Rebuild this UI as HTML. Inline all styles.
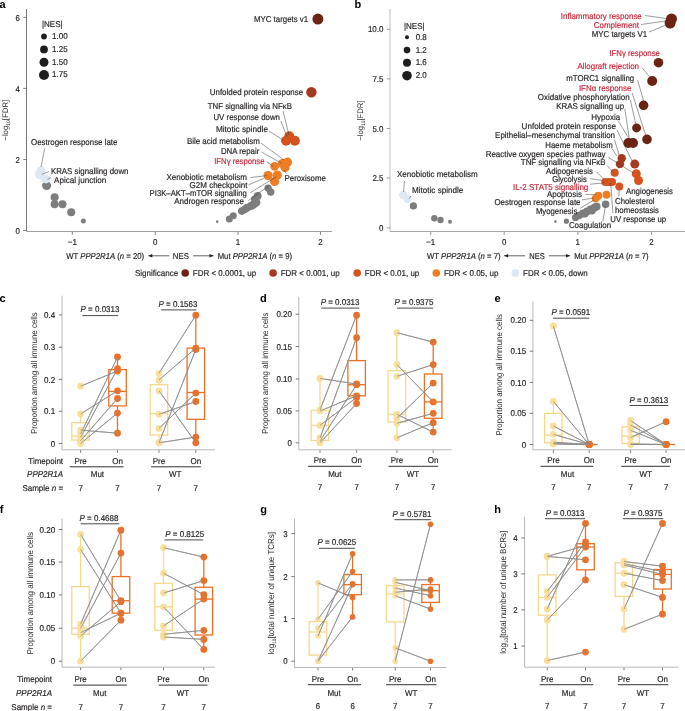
<!DOCTYPE html>
<html><head><meta charset="utf-8"><style>
html,body{margin:0;padding:0;background:#fff;}
svg{display:block;font-family:"Liberation Sans", sans-serif;will-change:transform;text-rendering:geometricPrecision;}
</style></head><body>
<svg width="685" height="711" viewBox="0 0 685 711">
<rect width="685" height="711" fill="#fff"/>
<text x="-0.6" y="8.0" font-size="11" font-weight="bold" fill="#000">a</text>
<line x1="26.5" y1="9.0" x2="26.5" y2="231.5" stroke="#555555" stroke-width="0.8"/>
<line x1="26.5" y1="231.5" x2="332.0" y2="231.5" stroke="#a0a0a0" stroke-width="1.0"/>
<line x1="23.2" y1="17.4" x2="26.5" y2="17.4" stroke="#555555" stroke-width="0.7"/>
<text x="20.0" y="20.5" font-size="8.5" fill="#231f20" stroke="#231f20" stroke-width="0.18" text-anchor="end"  textLength="4.4" lengthAdjust="spacingAndGlyphs">6</text>
<line x1="23.2" y1="88.4" x2="26.5" y2="88.4" stroke="#555555" stroke-width="0.7"/>
<text x="20.0" y="91.5" font-size="8.5" fill="#231f20" stroke="#231f20" stroke-width="0.18" text-anchor="end"  textLength="4.4" lengthAdjust="spacingAndGlyphs">4</text>
<line x1="23.2" y1="159.5" x2="26.5" y2="159.5" stroke="#555555" stroke-width="0.7"/>
<text x="20.0" y="162.6" font-size="8.5" fill="#231f20" stroke="#231f20" stroke-width="0.18" text-anchor="end"  textLength="4.4" lengthAdjust="spacingAndGlyphs">2</text>
<line x1="23.2" y1="230.5" x2="26.5" y2="230.5" stroke="#555555" stroke-width="0.7"/>
<text x="20.0" y="233.6" font-size="8.5" fill="#231f20" stroke="#231f20" stroke-width="0.18" text-anchor="end"  textLength="4.4" lengthAdjust="spacingAndGlyphs">0</text>
<line x1="72.3" y1="232.0" x2="72.3" y2="234.8" stroke="#666" stroke-width="0.8"/>
<text x="72.3" y="245.1" font-size="8.5" fill="#231f20" stroke="#231f20" stroke-width="0.18" text-anchor="middle"  textLength="9.1" lengthAdjust="spacingAndGlyphs">−1</text>
<line x1="155.3" y1="232.0" x2="155.3" y2="234.8" stroke="#666" stroke-width="0.8"/>
<text x="155.3" y="245.1" font-size="8.5" fill="#231f20" stroke="#231f20" stroke-width="0.18" text-anchor="middle"  textLength="4.4" lengthAdjust="spacingAndGlyphs">0</text>
<line x1="238.0" y1="232.0" x2="238.0" y2="234.8" stroke="#666" stroke-width="0.8"/>
<text x="238.0" y="245.1" font-size="8.5" fill="#231f20" stroke="#231f20" stroke-width="0.18" text-anchor="middle"  textLength="4.4" lengthAdjust="spacingAndGlyphs">1</text>
<line x1="320.5" y1="232.0" x2="320.5" y2="234.8" stroke="#666" stroke-width="0.8"/>
<text x="320.5" y="245.1" font-size="8.5" fill="#231f20" stroke="#231f20" stroke-width="0.18" text-anchor="middle"  textLength="4.4" lengthAdjust="spacingAndGlyphs">2</text>
<text transform="translate(7.9,120.2) rotate(-90)" font-size="8" fill="#231f20" text-anchor="middle" textLength="41" lengthAdjust="spacingAndGlyphs">−log<tspan font-size="5" dy="2">10</tspan><tspan dy="-2">[FDR]</tspan></text>
<text x="66.3" y="258.7" font-size="8.5" fill="#231f20" stroke="#231f20" stroke-width="0.18" text-anchor="start"  textLength="77.8" lengthAdjust="spacingAndGlyphs">WT <tspan font-style="italic">PPP2R1A</tspan> (<tspan font-style="italic">n</tspan> = 20)</text>
<text x="172.8" y="258.7" font-size="8.5" fill="#231f20" stroke="#231f20" stroke-width="0.18" text-anchor="start"  textLength="16.1" lengthAdjust="spacingAndGlyphs">NES</text>
<text x="217.7" y="258.7" font-size="8.5" fill="#231f20" stroke="#231f20" stroke-width="0.18" text-anchor="start"  textLength="74.3" lengthAdjust="spacingAndGlyphs">Mut <tspan font-style="italic">PPP2R1A</tspan> (<tspan font-style="italic">n</tspan> = 9)</text>
<line x1="169.3" y1="255.8" x2="148.3" y2="255.8" stroke="#231f20" stroke-width="0.7"/>
<path d="M148.3,255.8 L152.3,254.10000000000002 L152.3,257.5 Z" fill="#231f20"/>
<line x1="193.1" y1="255.8" x2="213.5" y2="255.8" stroke="#231f20" stroke-width="0.7"/>
<path d="M213.5,255.8 L209.5,254.10000000000002 L209.5,257.5 Z" fill="#231f20"/>
<text x="42.0" y="26.7" font-size="8.5" fill="#231f20" stroke="#231f20" stroke-width="0.18" text-anchor="start"  textLength="20.6" lengthAdjust="spacingAndGlyphs">|NES|</text>
<circle cx="44.0" cy="36.5" r="2.9" fill="#1e1e1e"/>
<text x="52.0" y="38.8" font-size="8.5" fill="#231f20" stroke="#231f20" stroke-width="0.18" text-anchor="start"  textLength="15.6" lengthAdjust="spacingAndGlyphs">1.00</text>
<circle cx="44.0" cy="49.4" r="3.9" fill="#1e1e1e"/>
<text x="52.0" y="51.7" font-size="8.5" fill="#231f20" stroke="#231f20" stroke-width="0.18" text-anchor="start"  textLength="15.6" lengthAdjust="spacingAndGlyphs">1.25</text>
<circle cx="44.0" cy="62.3" r="4.5" fill="#1e1e1e"/>
<text x="52.0" y="64.6" font-size="8.5" fill="#231f20" stroke="#231f20" stroke-width="0.18" text-anchor="start"  textLength="15.6" lengthAdjust="spacingAndGlyphs">1.50</text>
<circle cx="44.0" cy="75.0" r="5.0" fill="#1e1e1e"/>
<text x="52.0" y="77.3" font-size="8.5" fill="#231f20" stroke="#231f20" stroke-width="0.18" text-anchor="start"  textLength="15.6" lengthAdjust="spacingAndGlyphs">1.75</text>
<circle cx="46.6" cy="185.6" r="4.5" fill="#7d7d7d"/>
<circle cx="54.6" cy="197.3" r="4.0" fill="#7d7d7d"/>
<circle cx="54.6" cy="204.2" r="4.0" fill="#7d7d7d"/>
<circle cx="62.5" cy="204.2" r="4.0" fill="#7d7d7d"/>
<circle cx="71.2" cy="212.2" r="4.0" fill="#7d7d7d"/>
<circle cx="83.4" cy="221.1" r="2.5" fill="#7d7d7d"/>
<circle cx="41.0" cy="170.7" r="4.5" fill="#dde8f4"/>
<circle cx="39.7" cy="174.4" r="4.8" fill="#dde8f4"/>
<circle cx="45.9" cy="178.9" r="4.5" fill="#dde8f4"/>
<text x="31.0" y="145.3" font-size="8.5" fill="#231f20" stroke="#231f20" stroke-width="0.18" text-anchor="start"  textLength="86.4" lengthAdjust="spacingAndGlyphs">Oestrogen response late</text>
<text x="50.9" y="173.6" font-size="8.5" fill="#231f20" stroke="#231f20" stroke-width="0.18" text-anchor="start"  textLength="77.6" lengthAdjust="spacingAndGlyphs">KRAS signalling down</text>
<text x="54.1" y="182.5" font-size="8.5" fill="#231f20" stroke="#231f20" stroke-width="0.18" text-anchor="start"  textLength="52.1" lengthAdjust="spacingAndGlyphs">Apical junction</text>
<line x1="44.7" y1="148.4" x2="41.0" y2="167.0" stroke="#3a3a3a" stroke-width="0.5"/>
<line x1="49.1" y1="171.6" x2="41.9" y2="174.3" stroke="#3a3a3a" stroke-width="0.5"/>
<line x1="47.5" y1="179.5" x2="51.0" y2="177.5" stroke="#3a3a3a" stroke-width="0.5"/>
<circle cx="217.2" cy="221.6" r="1.3" fill="#7d7d7d"/>
<circle cx="229.3" cy="219.0" r="3.5" fill="#7d7d7d"/>
<circle cx="233.3" cy="215.7" r="3.5" fill="#7d7d7d"/>
<circle cx="241.8" cy="211.1" r="3.8" fill="#7d7d7d"/>
<circle cx="244.5" cy="209.5" r="3.8" fill="#7d7d7d"/>
<circle cx="247.0" cy="207.8" r="4.0" fill="#7d7d7d"/>
<circle cx="251.0" cy="206.0" r="4.0" fill="#7d7d7d"/>
<circle cx="253.5" cy="204.5" r="4.0" fill="#7d7d7d"/>
<circle cx="256.2" cy="202.6" r="4.2" fill="#7d7d7d"/>
<circle cx="255.0" cy="199.5" r="4.0" fill="#7d7d7d"/>
<circle cx="257.6" cy="196.0" r="4.0" fill="#7d7d7d"/>
<circle cx="268.1" cy="188.1" r="3.7" fill="#7d7d7d"/>
<circle cx="270.7" cy="192.0" r="3.7" fill="#7d7d7d"/>
<circle cx="268.1" cy="175.6" r="4.6" fill="#ee7d23"/>
<circle cx="277.3" cy="175.0" r="4.6" fill="#ee7d23"/>
<circle cx="274.6" cy="181.5" r="4.6" fill="#ee7d23"/>
<circle cx="274.6" cy="166.4" r="4.3" fill="#ee7d23"/>
<circle cx="282.5" cy="163.5" r="4.6" fill="#ee7d23"/>
<circle cx="287.5" cy="162.2" r="4.6" fill="#ee7d23"/>
<circle cx="285.0" cy="167.5" r="4.6" fill="#ee7d23"/>
<circle cx="289.3" cy="136.3" r="5.0" fill="#d4531f"/>
<circle cx="286.1" cy="140.7" r="5.0" fill="#d4531f"/>
<circle cx="294.9" cy="140.7" r="5.0" fill="#d4531f"/>
<circle cx="311.4" cy="92.3" r="5.2" fill="#a63a20"/>
<circle cx="317.9" cy="19.1" r="5.5" fill="#6b2413"/>
<text x="253.9" y="22.2" font-size="8.5" fill="#231f20" stroke="#231f20" stroke-width="0.18" text-anchor="start"  textLength="54.3" lengthAdjust="spacingAndGlyphs">MYC targets v1</text>
<text x="209.7" y="95.3" font-size="8.5" fill="#231f20" stroke="#231f20" stroke-width="0.18" text-anchor="start"  textLength="93.5" lengthAdjust="spacingAndGlyphs">Unfolded protein response</text>
<text x="207.7" y="108.6" font-size="8.5" fill="#231f20" stroke="#231f20" stroke-width="0.18" text-anchor="start"  textLength="84.3" lengthAdjust="spacingAndGlyphs">TNF signalling via NFκB</text>
<text x="213.4" y="120.0" font-size="8.5" fill="#231f20" stroke="#231f20" stroke-width="0.18" text-anchor="start"  textLength="66.6" lengthAdjust="spacingAndGlyphs">UV response down</text>
<text x="215.9" y="132.1" font-size="8.5" fill="#231f20" stroke="#231f20" stroke-width="0.18" text-anchor="start"  textLength="52.1" lengthAdjust="spacingAndGlyphs">Mitotic spindle</text>
<text x="186.9" y="144.1" font-size="8.5" fill="#231f20" stroke="#231f20" stroke-width="0.18" text-anchor="start"  textLength="72.9" lengthAdjust="spacingAndGlyphs">Bile acid metabolism</text>
<text x="220.9" y="153.5" font-size="8.5" fill="#231f20" stroke="#231f20" stroke-width="0.18" text-anchor="start"  textLength="38.4" lengthAdjust="spacingAndGlyphs">DNA repair</text>
<text x="214.2" y="163.9" font-size="8.5" fill="#c8283c" stroke="#c8283c" stroke-width="0.18" text-anchor="start"  textLength="50.3" lengthAdjust="spacingAndGlyphs">IFNγ response</text>
<text x="246.9" y="180.1" font-size="8.5" fill="#231f20" stroke="#231f20" stroke-width="0.18" text-anchor="end"  textLength="80.5" lengthAdjust="spacingAndGlyphs">Xenobiotic metabolism</text>
<text x="247.4" y="188.2" font-size="8.5" fill="#231f20" stroke="#231f20" stroke-width="0.18" text-anchor="end"  textLength="57.8" lengthAdjust="spacingAndGlyphs">G2M checkpoint</text>
<text x="149.6" y="196.4" font-size="8.5" fill="#231f20" stroke="#231f20" stroke-width="0.18" text-anchor="start"  textLength="97.3" lengthAdjust="spacingAndGlyphs">PI3K–AKT–mTOR signalling</text>
<text x="244.0" y="204.3" font-size="8.5" fill="#231f20" stroke="#231f20" stroke-width="0.18" text-anchor="end"  textLength="69.8" lengthAdjust="spacingAndGlyphs">Androgen response</text>
<text x="284.6" y="181.3" font-size="8.5" fill="#231f20" stroke="#231f20" stroke-width="0.18" text-anchor="start"  textLength="41.2" lengthAdjust="spacingAndGlyphs">Peroxisome</text>
<line x1="283.0" y1="111.0" x2="289.0" y2="135.0" stroke="#3a3a3a" stroke-width="0.5"/>
<line x1="281.0" y1="121.0" x2="287.0" y2="137.0" stroke="#3a3a3a" stroke-width="0.5"/>
<line x1="269.0" y1="131.0" x2="283.0" y2="140.0" stroke="#3a3a3a" stroke-width="0.5"/>
<line x1="261.0" y1="143.0" x2="284.0" y2="160.0" stroke="#3a3a3a" stroke-width="0.5"/>
<line x1="261.5" y1="152.0" x2="281.2" y2="163.1" stroke="#3a3a3a" stroke-width="0.5"/>
<line x1="266.8" y1="161.8" x2="273.3" y2="166.4" stroke="#3a3a3a" stroke-width="0.5"/>
<line x1="250.3" y1="177.6" x2="266.8" y2="175.6" stroke="#3a3a3a" stroke-width="0.5"/>
<line x1="248.5" y1="184.8" x2="264.1" y2="178.3" stroke="#3a3a3a" stroke-width="0.5"/>
<line x1="250.3" y1="192.7" x2="276.0" y2="177.0" stroke="#3a3a3a" stroke-width="0.5"/>
<line x1="248.4" y1="200.6" x2="269.4" y2="185.5" stroke="#3a3a3a" stroke-width="0.5"/>
<line x1="286.5" y1="173.7" x2="283.8" y2="169.7" stroke="#3a3a3a" stroke-width="0.5"/>
<text x="354.6" y="8.0" font-size="11" font-weight="bold" fill="#000">b</text>
<line x1="390.0" y1="9.0" x2="390.0" y2="231.5" stroke="#b8b8b8" stroke-width="0.9"/>
<line x1="390.0" y1="231.5" x2="685.0" y2="231.5" stroke="#a8a8a8" stroke-width="1.0"/>
<line x1="386.7" y1="29.3" x2="390.0" y2="29.3" stroke="#777" stroke-width="0.7"/>
<text x="383.5" y="32.4" font-size="8.5" fill="#231f20" stroke="#231f20" stroke-width="0.18" text-anchor="end"  textLength="15.6" lengthAdjust="spacingAndGlyphs">10.0</text>
<line x1="386.7" y1="78.9" x2="390.0" y2="78.9" stroke="#777" stroke-width="0.7"/>
<text x="383.5" y="82.0" font-size="8.5" fill="#231f20" stroke="#231f20" stroke-width="0.18" text-anchor="end"  textLength="11.1" lengthAdjust="spacingAndGlyphs">7.5</text>
<line x1="386.7" y1="128.5" x2="390.0" y2="128.5" stroke="#777" stroke-width="0.7"/>
<text x="383.5" y="131.6" font-size="8.5" fill="#231f20" stroke="#231f20" stroke-width="0.18" text-anchor="end"  textLength="11.1" lengthAdjust="spacingAndGlyphs">5.0</text>
<line x1="386.7" y1="178.1" x2="390.0" y2="178.1" stroke="#777" stroke-width="0.7"/>
<text x="383.5" y="181.2" font-size="8.5" fill="#231f20" stroke="#231f20" stroke-width="0.18" text-anchor="end"  textLength="11.1" lengthAdjust="spacingAndGlyphs">2.5</text>
<line x1="386.7" y1="227.9" x2="390.0" y2="227.9" stroke="#777" stroke-width="0.7"/>
<text x="383.5" y="231.0" font-size="8.5" fill="#231f20" stroke="#231f20" stroke-width="0.18" text-anchor="end"  textLength="4.4" lengthAdjust="spacingAndGlyphs">0</text>
<line x1="430.7" y1="232.0" x2="430.7" y2="234.8" stroke="#777" stroke-width="0.8"/>
<text x="430.7" y="245.1" font-size="8.5" fill="#231f20" stroke="#231f20" stroke-width="0.18" text-anchor="middle"  textLength="9.1" lengthAdjust="spacingAndGlyphs">−1</text>
<line x1="504.2" y1="232.0" x2="504.2" y2="234.8" stroke="#777" stroke-width="0.8"/>
<text x="504.2" y="245.1" font-size="8.5" fill="#231f20" stroke="#231f20" stroke-width="0.18" text-anchor="middle"  textLength="4.4" lengthAdjust="spacingAndGlyphs">0</text>
<line x1="577.8" y1="232.0" x2="577.8" y2="234.8" stroke="#777" stroke-width="0.8"/>
<text x="577.8" y="245.1" font-size="8.5" fill="#231f20" stroke="#231f20" stroke-width="0.18" text-anchor="middle"  textLength="4.4" lengthAdjust="spacingAndGlyphs">1</text>
<line x1="651.5" y1="232.0" x2="651.5" y2="234.8" stroke="#777" stroke-width="0.8"/>
<text x="651.5" y="245.1" font-size="8.5" fill="#231f20" stroke="#231f20" stroke-width="0.18" text-anchor="middle"  textLength="4.4" lengthAdjust="spacingAndGlyphs">2</text>
<text transform="translate(362.9,120.6) rotate(-90)" font-size="8" fill="#231f20" text-anchor="middle" textLength="40" lengthAdjust="spacingAndGlyphs">−log<tspan font-size="5" dy="2">10</tspan><tspan dy="-2">[FDR]</tspan></text>
<text x="427.0" y="258.6" font-size="8.5" fill="#231f20" stroke="#231f20" stroke-width="0.18" text-anchor="start"  textLength="73.6" lengthAdjust="spacingAndGlyphs">WT <tspan font-style="italic">PPP2R1A</tspan> (<tspan font-style="italic">n</tspan> = 7)</text>
<text x="529.3" y="258.6" font-size="8.5" fill="#231f20" stroke="#231f20" stroke-width="0.18" text-anchor="start"  textLength="15.4" lengthAdjust="spacingAndGlyphs">NES</text>
<text x="574.2" y="258.6" font-size="8.5" fill="#231f20" stroke="#231f20" stroke-width="0.18" text-anchor="start"  textLength="74.3" lengthAdjust="spacingAndGlyphs">Mut <tspan font-style="italic">PPP2R1A</tspan> (<tspan font-style="italic">n</tspan> = 7)</text>
<line x1="525.1" y1="255.8" x2="504.1" y2="255.8" stroke="#231f20" stroke-width="0.7"/>
<path d="M504.1,255.8 L508.1,254.10000000000002 L508.1,257.5 Z" fill="#231f20"/>
<line x1="548.9" y1="255.8" x2="570.0" y2="255.8" stroke="#231f20" stroke-width="0.7"/>
<path d="M570.0,255.8 L566.0,254.10000000000002 L566.0,257.5 Z" fill="#231f20"/>
<text x="404.0" y="29.1" font-size="8.5" fill="#231f20" stroke="#231f20" stroke-width="0.18" text-anchor="start"  textLength="20.6" lengthAdjust="spacingAndGlyphs">|NES|</text>
<circle cx="407.0" cy="37.2" r="2.0" fill="#1e1e1e"/>
<text x="415.7" y="39.7" font-size="8.5" fill="#231f20" stroke="#231f20" stroke-width="0.18" text-anchor="start"  textLength="11.1" lengthAdjust="spacingAndGlyphs">0.8</text>
<circle cx="407.0" cy="50.1" r="3.3" fill="#1e1e1e"/>
<text x="415.7" y="52.6" font-size="8.5" fill="#231f20" stroke="#231f20" stroke-width="0.18" text-anchor="start"  textLength="11.1" lengthAdjust="spacingAndGlyphs">1.2</text>
<circle cx="407.0" cy="62.8" r="4.0" fill="#1e1e1e"/>
<text x="415.7" y="65.3" font-size="8.5" fill="#231f20" stroke="#231f20" stroke-width="0.18" text-anchor="start"  textLength="11.1" lengthAdjust="spacingAndGlyphs">1.6</text>
<circle cx="407.0" cy="75.7" r="4.8" fill="#1e1e1e"/>
<text x="415.7" y="78.2" font-size="8.5" fill="#231f20" stroke="#231f20" stroke-width="0.18" text-anchor="start"  textLength="11.1" lengthAdjust="spacingAndGlyphs">2.0</text>
<circle cx="413.4" cy="205.9" r="3.6" fill="#7d7d7d"/>
<circle cx="434.3" cy="218.3" r="3.2" fill="#7d7d7d"/>
<circle cx="440.5" cy="220.0" r="3.2" fill="#7d7d7d"/>
<circle cx="450.0" cy="221.7" r="2.0" fill="#7d7d7d"/>
<circle cx="403.3" cy="195.0" r="4.2" fill="#dde8f4"/>
<circle cx="407.5" cy="198.9" r="4.2" fill="#dde8f4"/>
<text x="397.0" y="177.2" font-size="8.5" fill="#231f20" stroke="#231f20" stroke-width="0.18" text-anchor="start"  textLength="80.7" lengthAdjust="spacingAndGlyphs">Xenobiotic metabolism</text>
<text x="412.0" y="193.3" font-size="8.5" fill="#231f20" stroke="#231f20" stroke-width="0.18" text-anchor="start"  textLength="51.3" lengthAdjust="spacingAndGlyphs">Mitotic spindle</text>
<line x1="404.5" y1="181.0" x2="403.5" y2="192.0" stroke="#3a3a3a" stroke-width="0.5"/>
<line x1="411.0" y1="196.0" x2="409.0" y2="198.5" stroke="#3a3a3a" stroke-width="0.5"/>
<circle cx="555.4" cy="221.6" r="1.3" fill="#7d7d7d"/>
<circle cx="566.4" cy="221.2" r="2.6" fill="#7d7d7d"/>
<circle cx="575.5" cy="217.6" r="3.6" fill="#7d7d7d"/>
<circle cx="579.0" cy="215.5" r="3.8" fill="#7d7d7d"/>
<circle cx="583.0" cy="213.5" r="4.0" fill="#7d7d7d"/>
<circle cx="587.0" cy="211.5" r="4.0" fill="#7d7d7d"/>
<circle cx="590.5" cy="209.5" r="4.0" fill="#7d7d7d"/>
<circle cx="594.0" cy="208.0" r="4.0" fill="#7d7d7d"/>
<circle cx="596.5" cy="206.6" r="4.0" fill="#7d7d7d"/>
<circle cx="585.0" cy="214.0" r="3.5" fill="#7d7d7d"/>
<circle cx="592.0" cy="211.0" r="3.5" fill="#7d7d7d"/>
<circle cx="605.6" cy="204.2" r="3.8" fill="#7d7d7d"/>
<circle cx="598.3" cy="195.7" r="4.0" fill="#ee7d23"/>
<circle cx="606.5" cy="194.7" r="4.0" fill="#ee7d23"/>
<circle cx="595.6" cy="198.4" r="3.8" fill="#ee7d23"/>
<circle cx="605.3" cy="182.0" r="4.0" fill="#d4531f"/>
<circle cx="609.0" cy="182.0" r="4.0" fill="#d4531f"/>
<circle cx="612.0" cy="182.0" r="4.0" fill="#d4531f"/>
<circle cx="619.3" cy="186.5" r="4.0" fill="#d4531f"/>
<circle cx="614.7" cy="172.8" r="4.0" fill="#d4531f"/>
<circle cx="636.3" cy="173.8" r="4.5" fill="#d4531f"/>
<circle cx="638.5" cy="180.5" r="4.5" fill="#d4531f"/>
<circle cx="621.7" cy="158.2" r="4.2" fill="#a63a20"/>
<circle cx="619.9" cy="164.1" r="4.2" fill="#a63a20"/>
<circle cx="634.8" cy="164.1" r="4.5" fill="#a63a20"/>
<circle cx="628.4" cy="143.0" r="5.0" fill="#6b2413"/>
<circle cx="633.0" cy="143.0" r="5.0" fill="#6b2413"/>
<circle cx="647.0" cy="139.4" r="4.8" fill="#6b2413"/>
<circle cx="636.6" cy="127.9" r="4.5" fill="#6b2413"/>
<circle cx="643.6" cy="105.3" r="4.8" fill="#6b2413"/>
<circle cx="652.2" cy="81.0" r="5.0" fill="#6b2413"/>
<circle cx="658.5" cy="62.7" r="4.8" fill="#6b2413"/>
<circle cx="671.5" cy="18.9" r="5.5" fill="#6b2413"/>
<circle cx="670.1" cy="23.0" r="5.5" fill="#6b2413"/>
<text x="560.8" y="18.5" font-size="8.5" fill="#c8283c" stroke="#c8283c" stroke-width="0.18" text-anchor="start"  textLength="81.0" lengthAdjust="spacingAndGlyphs">Inflammatory response</text>
<text x="593.7" y="28.2" font-size="8.5" fill="#c8283c" stroke="#c8283c" stroke-width="0.18" text-anchor="start"  textLength="45.3" lengthAdjust="spacingAndGlyphs">Complement</text>
<text x="591.8" y="36.6" font-size="8.5" fill="#231f20" stroke="#231f20" stroke-width="0.18" text-anchor="start"  textLength="55.4" lengthAdjust="spacingAndGlyphs">MYC targets V1</text>
<text x="609.4" y="56.3" font-size="8.5" fill="#c8283c" stroke="#c8283c" stroke-width="0.18" text-anchor="start"  textLength="50.5" lengthAdjust="spacingAndGlyphs">IFNγ response</text>
<text x="577.5" y="69.3" font-size="8.5" fill="#c8283c" stroke="#c8283c" stroke-width="0.18" text-anchor="start"  textLength="61.5" lengthAdjust="spacingAndGlyphs">Allograft rejection</text>
<text x="566.2" y="80.9" font-size="8.5" fill="#231f20" stroke="#231f20" stroke-width="0.18" text-anchor="start"  textLength="68.0" lengthAdjust="spacingAndGlyphs">mTORC1 signalling</text>
<text x="578.9" y="91.4" font-size="8.5" fill="#c8283c" stroke="#c8283c" stroke-width="0.18" text-anchor="start"  textLength="52.6" lengthAdjust="spacingAndGlyphs">IFNα response</text>
<text x="537.8" y="99.5" font-size="8.5" fill="#231f20" stroke="#231f20" stroke-width="0.18" text-anchor="start"  textLength="91.8" lengthAdjust="spacingAndGlyphs">Oxidative phosphorylation</text>
<text x="556.2" y="108.7" font-size="8.5" fill="#231f20" stroke="#231f20" stroke-width="0.18" text-anchor="start"  textLength="68.0" lengthAdjust="spacingAndGlyphs">KRAS signalling up</text>
<text x="591.3" y="120.0" font-size="8.5" fill="#231f20" stroke="#231f20" stroke-width="0.18" text-anchor="start"  textLength="28.9" lengthAdjust="spacingAndGlyphs">Hypoxia</text>
<text x="521.6" y="128.9" font-size="8.5" fill="#231f20" stroke="#231f20" stroke-width="0.18" text-anchor="start"  textLength="94.5" lengthAdjust="spacingAndGlyphs">Unfolded protein response</text>
<text x="495.1" y="138.4" font-size="8.5" fill="#231f20" stroke="#231f20" stroke-width="0.18" text-anchor="start"  textLength="119.9" lengthAdjust="spacingAndGlyphs">Epithelial–mesenchymal transition</text>
<text x="545.3" y="148.1" font-size="8.5" fill="#231f20" stroke="#231f20" stroke-width="0.18" text-anchor="start"  textLength="67.5" lengthAdjust="spacingAndGlyphs">Haeme metabolism</text>
<text x="485.7" y="157.0" font-size="8.5" fill="#231f20" stroke="#231f20" stroke-width="0.18" text-anchor="start"  textLength="119.9" lengthAdjust="spacingAndGlyphs">Reactive oxygen species pathway</text>
<text x="520.8" y="165.4" font-size="8.5" fill="#231f20" stroke="#231f20" stroke-width="0.18" text-anchor="start"  textLength="84.8" lengthAdjust="spacingAndGlyphs">TNF signalling via NFκB</text>
<text x="546.0" y="173.9" font-size="8.5" fill="#231f20" stroke="#231f20" stroke-width="0.18" text-anchor="start"  textLength="47.0" lengthAdjust="spacingAndGlyphs">Adipogenesis</text>
<text x="552.2" y="181.7" font-size="8.5" fill="#231f20" stroke="#231f20" stroke-width="0.18" text-anchor="start"  textLength="34.6" lengthAdjust="spacingAndGlyphs">Glycolysis</text>
<text x="513.0" y="189.6" font-size="8.5" fill="#c8283c" stroke="#c8283c" stroke-width="0.18" text-anchor="start"  textLength="75.3" lengthAdjust="spacingAndGlyphs">IL-2 STAT5 signalling</text>
<text x="546.9" y="197.4" font-size="8.5" fill="#231f20" stroke="#231f20" stroke-width="0.18" text-anchor="start"  textLength="35.1" lengthAdjust="spacingAndGlyphs">Apoptosis</text>
<text x="494.5" y="204.7" font-size="8.5" fill="#231f20" stroke="#231f20" stroke-width="0.18" text-anchor="start"  textLength="86.0" lengthAdjust="spacingAndGlyphs">Oestrogen response late</text>
<text x="535.9" y="213.8" font-size="8.5" fill="#231f20" stroke="#231f20" stroke-width="0.18" text-anchor="start"  textLength="41.4" lengthAdjust="spacingAndGlyphs">Myogenesis</text>
<text x="568.9" y="227.9" font-size="8.5" fill="#231f20" stroke="#231f20" stroke-width="0.18" text-anchor="start"  textLength="42.3" lengthAdjust="spacingAndGlyphs">Coagulation</text>
<text x="610.3" y="222.2" font-size="8.5" fill="#231f20" stroke="#231f20" stroke-width="0.18" text-anchor="start"  textLength="55.9" lengthAdjust="spacingAndGlyphs">UV response up</text>
<text x="615.0" y="213.1" font-size="8.5" fill="#231f20" stroke="#231f20" stroke-width="0.18" text-anchor="start"  textLength="44.0" lengthAdjust="spacingAndGlyphs">homeostasis</text>
<text x="615.0" y="204.0" font-size="8.5" fill="#231f20" stroke="#231f20" stroke-width="0.18" text-anchor="start"  textLength="39.6" lengthAdjust="spacingAndGlyphs">Cholesterol</text>
<text x="626.0" y="193.7" font-size="8.5" fill="#231f20" stroke="#231f20" stroke-width="0.18" text-anchor="start"  textLength="47.0" lengthAdjust="spacingAndGlyphs">Angiogenesis</text>
<line x1="645.0" y1="15.5" x2="666.0" y2="18.5" stroke="#3a3a3a" stroke-width="0.5"/>
<line x1="641.0" y1="24.5" x2="666.0" y2="21.0" stroke="#3a3a3a" stroke-width="0.5"/>
<line x1="649.0" y1="32.0" x2="666.0" y2="25.0" stroke="#3a3a3a" stroke-width="0.5"/>
<line x1="642.1" y1="67.7" x2="649.8" y2="77.3" stroke="#3a3a3a" stroke-width="0.5"/>
<line x1="637.6" y1="80.1" x2="643.6" y2="101.0" stroke="#3a3a3a" stroke-width="0.5"/>
<line x1="632.1" y1="92.8" x2="645.8" y2="135.7" stroke="#3a3a3a" stroke-width="0.5"/>
<line x1="630.3" y1="99.8" x2="635.7" y2="123.9" stroke="#3a3a3a" stroke-width="0.5"/>
<line x1="624.8" y1="108.9" x2="629.3" y2="138.5" stroke="#3a3a3a" stroke-width="0.5"/>
<line x1="618.4" y1="121.1" x2="628.4" y2="137.6" stroke="#3a3a3a" stroke-width="0.5"/>
<line x1="616.9" y1="129.7" x2="632.5" y2="162.0" stroke="#3a3a3a" stroke-width="0.5"/>
<line x1="614.4" y1="139.4" x2="619.3" y2="155.5" stroke="#3a3a3a" stroke-width="0.5"/>
<line x1="612.0" y1="148.5" x2="616.6" y2="155.8" stroke="#3a3a3a" stroke-width="0.5"/>
<line x1="608.4" y1="157.3" x2="633.0" y2="172.8" stroke="#3a3a3a" stroke-width="0.5"/>
<line x1="607.1" y1="165.5" x2="612.9" y2="171.9" stroke="#3a3a3a" stroke-width="0.5"/>
<line x1="596.5" y1="171.9" x2="603.8" y2="179.2" stroke="#3a3a3a" stroke-width="0.5"/>
<line x1="590.1" y1="178.7" x2="602.9" y2="180.5" stroke="#3a3a3a" stroke-width="0.5"/>
<line x1="590.1" y1="184.2" x2="603.8" y2="182.9" stroke="#3a3a3a" stroke-width="0.5"/>
<line x1="585.5" y1="194.4" x2="595.6" y2="194.7" stroke="#3a3a3a" stroke-width="0.5"/>
<line x1="581.9" y1="199.9" x2="593.8" y2="198.0" stroke="#3a3a3a" stroke-width="0.5"/>
<line x1="580.0" y1="208.4" x2="593.8" y2="200.2" stroke="#3a3a3a" stroke-width="0.5"/>
<line x1="602.9" y1="221.2" x2="605.3" y2="206.6" stroke="#3a3a3a" stroke-width="0.5"/>
<line x1="612.9" y1="213.0" x2="610.7" y2="182.9" stroke="#3a3a3a" stroke-width="0.5"/>
<line x1="618.8" y1="196.6" x2="619.3" y2="189.3" stroke="#3a3a3a" stroke-width="0.5"/>
<text x="-0.4" y="301.8" font-size="11" font-weight="bold" fill="#000">c</text>
<line x1="62.0" y1="295.7" x2="62.0" y2="449.8" stroke="#b8b8b8" stroke-width="1.0"/>
<line x1="62.0" y1="449.8" x2="215.0" y2="449.8" stroke="#b8b8b8" stroke-width="1.0"/>
<line x1="58.8" y1="443.5" x2="62.0" y2="443.5" stroke="#444" stroke-width="0.7"/>
<text x="55.2" y="446.6" font-size="8.5" fill="#231f20" stroke="#231f20" stroke-width="0.18" text-anchor="end"  textLength="4.4" lengthAdjust="spacingAndGlyphs">0</text>
<line x1="58.8" y1="411.3" x2="62.0" y2="411.3" stroke="#444" stroke-width="0.7"/>
<text x="55.2" y="414.4" font-size="8.5" fill="#231f20" stroke="#231f20" stroke-width="0.18" text-anchor="end"  textLength="11.1" lengthAdjust="spacingAndGlyphs">0.1</text>
<line x1="58.8" y1="379.4" x2="62.0" y2="379.4" stroke="#444" stroke-width="0.7"/>
<text x="55.2" y="382.5" font-size="8.5" fill="#231f20" stroke="#231f20" stroke-width="0.18" text-anchor="end"  textLength="11.1" lengthAdjust="spacingAndGlyphs">0.2</text>
<line x1="58.8" y1="347.2" x2="62.0" y2="347.2" stroke="#444" stroke-width="0.7"/>
<text x="55.2" y="350.3" font-size="8.5" fill="#231f20" stroke="#231f20" stroke-width="0.18" text-anchor="end"  textLength="11.1" lengthAdjust="spacingAndGlyphs">0.3</text>
<line x1="58.8" y1="315.0" x2="62.0" y2="315.0" stroke="#444" stroke-width="0.7"/>
<text x="55.2" y="318.1" font-size="8.5" fill="#231f20" stroke="#231f20" stroke-width="0.18" text-anchor="end"  textLength="11.1" lengthAdjust="spacingAndGlyphs">0.4</text>
<line x1="80.6" y1="450.3" x2="80.6" y2="452.8" stroke="#444" stroke-width="0.7"/>
<line x1="117.5" y1="450.3" x2="117.5" y2="452.8" stroke="#444" stroke-width="0.7"/>
<line x1="159.0" y1="450.3" x2="159.0" y2="452.8" stroke="#444" stroke-width="0.7"/>
<line x1="195.8" y1="450.3" x2="195.8" y2="452.8" stroke="#444" stroke-width="0.7"/>
<text transform="translate(36.6,373.1) rotate(-90)" font-size="8.5" fill="#231f20" text-anchor="middle" textLength="121.8" lengthAdjust="spacingAndGlyphs">Proportion among all immune cells</text>
<rect x="71.8" y="422.7" width="17.5" height="17.4" stroke="#f6d88c" stroke-width="1.3" fill="none"/>
<line x1="71.8" y1="436.1" x2="89.3" y2="436.1" stroke="#f6d88c" stroke-width="1.3"/>
<line x1="117.5" y1="357.2" x2="117.5" y2="369.6" stroke="#ea7127" stroke-width="1.3"/>
<line x1="117.5" y1="405.9" x2="117.5" y2="433.4" stroke="#ea7127" stroke-width="1.3"/>
<rect x="108.8" y="369.6" width="17.5" height="36.3" stroke="#ea7127" stroke-width="1.3" fill="none"/>
<line x1="108.8" y1="391.4" x2="126.2" y2="391.4" stroke="#ea7127" stroke-width="1.3"/>
<line x1="159.0" y1="373.3" x2="159.0" y2="384.7" stroke="#f6d88c" stroke-width="1.3"/>
<line x1="159.0" y1="435.1" x2="159.0" y2="442.8" stroke="#f6d88c" stroke-width="1.3"/>
<rect x="150.2" y="384.7" width="17.5" height="50.4" stroke="#f6d88c" stroke-width="1.3" fill="none"/>
<line x1="150.2" y1="413.6" x2="167.8" y2="413.6" stroke="#f6d88c" stroke-width="1.3"/>
<line x1="195.8" y1="315.2" x2="195.8" y2="348.1" stroke="#ea7127" stroke-width="1.3"/>
<line x1="195.8" y1="419.3" x2="195.8" y2="442.8" stroke="#ea7127" stroke-width="1.3"/>
<rect x="187.1" y="348.1" width="17.5" height="71.2" stroke="#ea7127" stroke-width="1.3" fill="none"/>
<line x1="187.1" y1="392.5" x2="204.6" y2="392.5" stroke="#ea7127" stroke-width="1.3"/>
<line x1="80.6" y1="422.7" x2="80.6" y2="414.0" stroke="#f6d88c" stroke-width="1.3"/>
<line x1="80.6" y1="386.2" x2="117.5" y2="371.0" stroke="#8c8c8c" stroke-width="0.75"/>
<line x1="80.6" y1="414.0" x2="117.5" y2="390.8" stroke="#8c8c8c" stroke-width="0.75"/>
<line x1="80.6" y1="430.1" x2="117.5" y2="433.2" stroke="#8c8c8c" stroke-width="0.75"/>
<line x1="80.6" y1="434.0" x2="117.5" y2="357.0" stroke="#8c8c8c" stroke-width="0.75"/>
<line x1="80.6" y1="437.5" x2="117.5" y2="368.7" stroke="#8c8c8c" stroke-width="0.75"/>
<line x1="80.6" y1="440.7" x2="117.5" y2="398.5" stroke="#8c8c8c" stroke-width="0.75"/>
<line x1="80.6" y1="443.5" x2="117.5" y2="413.1" stroke="#8c8c8c" stroke-width="0.75"/>
<line x1="159.0" y1="373.3" x2="195.8" y2="315.2" stroke="#8c8c8c" stroke-width="0.75"/>
<line x1="159.0" y1="380.0" x2="195.8" y2="348.1" stroke="#8c8c8c" stroke-width="0.75"/>
<line x1="159.0" y1="390.8" x2="195.8" y2="442.8" stroke="#8c8c8c" stroke-width="0.75"/>
<line x1="159.0" y1="414.3" x2="195.8" y2="401.5" stroke="#8c8c8c" stroke-width="0.75"/>
<line x1="159.0" y1="428.4" x2="195.8" y2="393.1" stroke="#8c8c8c" stroke-width="0.75"/>
<line x1="159.0" y1="442.8" x2="195.8" y2="349.5" stroke="#8c8c8c" stroke-width="0.75"/>
<line x1="159.0" y1="442.8" x2="195.8" y2="437.1" stroke="#8c8c8c" stroke-width="0.75"/>
<circle cx="80.6" cy="386.2" r="3.4" fill="#f8df9c"/>
<circle cx="80.6" cy="414.0" r="3.4" fill="#f8df9c"/>
<circle cx="80.6" cy="430.1" r="3.4" fill="#f8df9c"/>
<circle cx="80.6" cy="434.0" r="3.4" fill="#f8df9c"/>
<circle cx="80.6" cy="437.5" r="3.4" fill="#f8df9c"/>
<circle cx="80.6" cy="440.7" r="3.4" fill="#f8df9c"/>
<circle cx="80.6" cy="443.5" r="3.4" fill="#f8df9c"/>
<circle cx="117.5" cy="357.0" r="3.4" fill="#ea7127"/>
<circle cx="117.5" cy="368.7" r="3.4" fill="#ea7127"/>
<circle cx="117.5" cy="371.0" r="3.4" fill="#ea7127"/>
<circle cx="117.5" cy="390.8" r="3.4" fill="#ea7127"/>
<circle cx="117.5" cy="398.5" r="3.4" fill="#ea7127"/>
<circle cx="117.5" cy="413.1" r="3.4" fill="#ea7127"/>
<circle cx="117.5" cy="433.2" r="3.4" fill="#ea7127"/>
<circle cx="159.0" cy="373.3" r="3.4" fill="#f8df9c"/>
<circle cx="159.0" cy="380.0" r="3.4" fill="#f8df9c"/>
<circle cx="159.0" cy="390.8" r="3.4" fill="#f8df9c"/>
<circle cx="159.0" cy="414.3" r="3.4" fill="#f8df9c"/>
<circle cx="159.0" cy="428.4" r="3.4" fill="#f8df9c"/>
<circle cx="159.0" cy="442.8" r="3.4" fill="#f8df9c"/>
<circle cx="159.0" cy="442.8" r="3.4" fill="#f8df9c"/>
<circle cx="195.8" cy="315.2" r="3.4" fill="#ea7127"/>
<circle cx="195.8" cy="348.1" r="3.4" fill="#ea7127"/>
<circle cx="195.8" cy="349.5" r="3.4" fill="#ea7127"/>
<circle cx="195.8" cy="393.1" r="3.4" fill="#ea7127"/>
<circle cx="195.8" cy="401.5" r="3.4" fill="#ea7127"/>
<circle cx="195.8" cy="437.1" r="3.4" fill="#ea7127"/>
<circle cx="195.8" cy="442.8" r="3.4" fill="#ea7127"/>
<line x1="80.6" y1="386.2" x2="117.5" y2="371.0" stroke="#8c8c8c" stroke-width="0.75"/>
<line x1="80.6" y1="414.0" x2="117.5" y2="390.8" stroke="#8c8c8c" stroke-width="0.75"/>
<line x1="80.6" y1="430.1" x2="117.5" y2="433.2" stroke="#8c8c8c" stroke-width="0.75"/>
<line x1="80.6" y1="434.0" x2="117.5" y2="357.0" stroke="#8c8c8c" stroke-width="0.75"/>
<line x1="80.6" y1="437.5" x2="117.5" y2="368.7" stroke="#8c8c8c" stroke-width="0.75"/>
<line x1="80.6" y1="440.7" x2="117.5" y2="398.5" stroke="#8c8c8c" stroke-width="0.75"/>
<line x1="80.6" y1="443.5" x2="117.5" y2="413.1" stroke="#8c8c8c" stroke-width="0.75"/>
<line x1="159.0" y1="373.3" x2="195.8" y2="315.2" stroke="#8c8c8c" stroke-width="0.75"/>
<line x1="159.0" y1="380.0" x2="195.8" y2="348.1" stroke="#8c8c8c" stroke-width="0.75"/>
<line x1="159.0" y1="390.8" x2="195.8" y2="442.8" stroke="#8c8c8c" stroke-width="0.75"/>
<line x1="159.0" y1="414.3" x2="195.8" y2="401.5" stroke="#8c8c8c" stroke-width="0.75"/>
<line x1="159.0" y1="428.4" x2="195.8" y2="393.1" stroke="#8c8c8c" stroke-width="0.75"/>
<line x1="159.0" y1="442.8" x2="195.8" y2="349.5" stroke="#8c8c8c" stroke-width="0.75"/>
<line x1="159.0" y1="442.8" x2="195.8" y2="437.1" stroke="#8c8c8c" stroke-width="0.75"/>
<text x="100.0" y="312.3" font-size="8.5" fill="#231f20" stroke="#231f20" stroke-width="0.18" text-anchor="middle"  textLength="38.8" lengthAdjust="spacingAndGlyphs"><tspan font-style="italic">P</tspan> = 0.0313</text>
<line x1="82.3" y1="315.6" x2="118.2" y2="315.6" stroke="#4a4a4a" stroke-width="1.0"/>
<text x="178.0" y="306.5" font-size="8.5" fill="#231f20" stroke="#231f20" stroke-width="0.18" text-anchor="middle"  textLength="38.8" lengthAdjust="spacingAndGlyphs"><tspan font-style="italic">P</tspan> = 0.1563</text>
<line x1="161.2" y1="309.9" x2="196.4" y2="309.9" stroke="#4a4a4a" stroke-width="1.0"/>
<text x="80.6" y="463.9" font-size="8.5" fill="#231f20" stroke="#231f20" stroke-width="0.18" text-anchor="middle"  textLength="12.4" lengthAdjust="spacingAndGlyphs">Pre</text>
<text x="80.6" y="490.8" font-size="8.5" fill="#231f20" stroke="#231f20" stroke-width="0.18" text-anchor="middle"  textLength="4.4" lengthAdjust="spacingAndGlyphs">7</text>
<text x="117.5" y="463.9" font-size="8.5" fill="#231f20" stroke="#231f20" stroke-width="0.18" text-anchor="middle"  textLength="10.7" lengthAdjust="spacingAndGlyphs">On</text>
<text x="117.5" y="490.8" font-size="8.5" fill="#231f20" stroke="#231f20" stroke-width="0.18" text-anchor="middle"  textLength="4.4" lengthAdjust="spacingAndGlyphs">7</text>
<text x="159.0" y="463.9" font-size="8.5" fill="#231f20" stroke="#231f20" stroke-width="0.18" text-anchor="middle"  textLength="12.4" lengthAdjust="spacingAndGlyphs">Pre</text>
<text x="159.0" y="490.8" font-size="8.5" fill="#231f20" stroke="#231f20" stroke-width="0.18" text-anchor="middle"  textLength="4.4" lengthAdjust="spacingAndGlyphs">7</text>
<text x="195.8" y="463.9" font-size="8.5" fill="#231f20" stroke="#231f20" stroke-width="0.18" text-anchor="middle"  textLength="10.7" lengthAdjust="spacingAndGlyphs">On</text>
<text x="195.8" y="490.8" font-size="8.5" fill="#231f20" stroke="#231f20" stroke-width="0.18" text-anchor="middle"  textLength="4.4" lengthAdjust="spacingAndGlyphs">7</text>
<line x1="69.8" y1="466.8" x2="123.6" y2="466.8" stroke="#333" stroke-width="1.0"/>
<line x1="151.1" y1="466.8" x2="200.8" y2="466.8" stroke="#333" stroke-width="1.0"/>
<text x="97.4" y="477.4" font-size="8.5" fill="#231f20" stroke="#231f20" stroke-width="0.18" text-anchor="middle"  textLength="13.3" lengthAdjust="spacingAndGlyphs">Mut</text>
<text x="175.3" y="477.4" font-size="8.5" fill="#231f20" stroke="#231f20" stroke-width="0.18" text-anchor="middle"  textLength="12.4" lengthAdjust="spacingAndGlyphs">WT</text>
<text x="63.1" y="463.9" font-size="8.5" fill="#231f20" stroke="#231f20" stroke-width="0.18" text-anchor="end"  textLength="34.8" lengthAdjust="spacingAndGlyphs">Timepoint</text>
<text x="63.1" y="477.4" font-size="8.5" fill="#231f20" stroke="#231f20" stroke-width="0.18" text-anchor="end"  textLength="36.0" lengthAdjust="spacingAndGlyphs"><tspan font-style="italic">PPP2R1A</tspan></text>
<text x="63.1" y="490.8" font-size="8.5" fill="#231f20" stroke="#231f20" stroke-width="0.18" text-anchor="end"  textLength="40.7" lengthAdjust="spacingAndGlyphs">Sample <tspan font-style="italic">n</tspan> =</text>
<text x="260.1" y="301.8" font-size="11" font-weight="bold" fill="#000">d</text>
<line x1="298.8" y1="296.8" x2="298.8" y2="449.8" stroke="#b8b8b8" stroke-width="1.0"/>
<line x1="298.8" y1="449.8" x2="451.6" y2="449.8" stroke="#b8b8b8" stroke-width="1.0"/>
<line x1="295.6" y1="442.8" x2="298.8" y2="442.8" stroke="#444" stroke-width="0.7"/>
<text x="292.0" y="445.9" font-size="8.5" fill="#231f20" stroke="#231f20" stroke-width="0.18" text-anchor="end"  textLength="4.4" lengthAdjust="spacingAndGlyphs">0</text>
<line x1="295.6" y1="410.9" x2="298.8" y2="410.9" stroke="#444" stroke-width="0.7"/>
<text x="292.0" y="414.0" font-size="8.5" fill="#231f20" stroke="#231f20" stroke-width="0.18" text-anchor="end"  textLength="15.6" lengthAdjust="spacingAndGlyphs">0.05</text>
<line x1="295.6" y1="379.0" x2="298.8" y2="379.0" stroke="#444" stroke-width="0.7"/>
<text x="292.0" y="382.1" font-size="8.5" fill="#231f20" stroke="#231f20" stroke-width="0.18" text-anchor="end"  textLength="15.6" lengthAdjust="spacingAndGlyphs">0.10</text>
<line x1="295.6" y1="346.5" x2="298.8" y2="346.5" stroke="#444" stroke-width="0.7"/>
<text x="292.0" y="349.6" font-size="8.5" fill="#231f20" stroke="#231f20" stroke-width="0.18" text-anchor="end"  textLength="15.6" lengthAdjust="spacingAndGlyphs">0.15</text>
<line x1="295.6" y1="314.2" x2="298.8" y2="314.2" stroke="#444" stroke-width="0.7"/>
<text x="292.0" y="317.3" font-size="8.5" fill="#231f20" stroke="#231f20" stroke-width="0.18" text-anchor="end"  textLength="15.6" lengthAdjust="spacingAndGlyphs">0.20</text>
<line x1="320.0" y1="450.3" x2="320.0" y2="452.8" stroke="#444" stroke-width="0.7"/>
<line x1="356.6" y1="450.3" x2="356.6" y2="452.8" stroke="#444" stroke-width="0.7"/>
<line x1="396.9" y1="450.3" x2="396.9" y2="452.8" stroke="#444" stroke-width="0.7"/>
<line x1="433.2" y1="450.3" x2="433.2" y2="452.8" stroke="#444" stroke-width="0.7"/>
<text transform="translate(268.3,373.2) rotate(-90)" font-size="8.5" fill="#231f20" text-anchor="middle" textLength="121.5" lengthAdjust="spacingAndGlyphs">Proportion among all immune cells</text>
<line x1="320.0" y1="379.0" x2="320.0" y2="410.3" stroke="#f6d88c" stroke-width="1.3"/>
<line x1="320.0" y1="440.5" x2="320.0" y2="442.8" stroke="#f6d88c" stroke-width="1.3"/>
<rect x="311.2" y="410.3" width="17.5" height="30.2" stroke="#f6d88c" stroke-width="1.3" fill="none"/>
<line x1="311.2" y1="425.4" x2="328.8" y2="425.4" stroke="#f6d88c" stroke-width="1.3"/>
<line x1="356.6" y1="314.2" x2="356.6" y2="360.6" stroke="#ea7127" stroke-width="1.3"/>
<line x1="356.6" y1="395.8" x2="356.6" y2="403.5" stroke="#ea7127" stroke-width="1.3"/>
<rect x="347.9" y="360.6" width="17.5" height="35.2" stroke="#ea7127" stroke-width="1.3" fill="none"/>
<line x1="347.9" y1="384.7" x2="365.4" y2="384.7" stroke="#ea7127" stroke-width="1.3"/>
<line x1="396.9" y1="332.7" x2="396.9" y2="370.6" stroke="#f6d88c" stroke-width="1.3"/>
<line x1="396.9" y1="422.0" x2="396.9" y2="437.8" stroke="#f6d88c" stroke-width="1.3"/>
<rect x="388.1" y="370.6" width="17.5" height="51.4" stroke="#f6d88c" stroke-width="1.3" fill="none"/>
<line x1="388.1" y1="414.3" x2="405.6" y2="414.3" stroke="#f6d88c" stroke-width="1.3"/>
<line x1="433.2" y1="342.0" x2="433.2" y2="374.0" stroke="#ea7127" stroke-width="1.3"/>
<line x1="433.2" y1="418.3" x2="433.2" y2="432.1" stroke="#ea7127" stroke-width="1.3"/>
<rect x="424.4" y="374.0" width="17.5" height="44.3" stroke="#ea7127" stroke-width="1.3" fill="none"/>
<line x1="424.4" y1="401.9" x2="441.9" y2="401.9" stroke="#ea7127" stroke-width="1.3"/>
<line x1="320.0" y1="378.4" x2="356.6" y2="384.0" stroke="#8c8c8c" stroke-width="0.75"/>
<line x1="320.0" y1="410.0" x2="356.6" y2="315.2" stroke="#8c8c8c" stroke-width="0.75"/>
<line x1="320.0" y1="411.0" x2="356.6" y2="395.8" stroke="#8c8c8c" stroke-width="0.75"/>
<line x1="320.0" y1="425.4" x2="356.6" y2="397.5" stroke="#8c8c8c" stroke-width="0.75"/>
<line x1="320.0" y1="438.0" x2="356.6" y2="337.7" stroke="#8c8c8c" stroke-width="0.75"/>
<line x1="320.0" y1="441.0" x2="356.6" y2="384.7" stroke="#8c8c8c" stroke-width="0.75"/>
<line x1="320.0" y1="442.8" x2="356.6" y2="403.5" stroke="#8c8c8c" stroke-width="0.75"/>
<line x1="396.9" y1="332.7" x2="433.2" y2="342.1" stroke="#8c8c8c" stroke-width="0.75"/>
<line x1="396.9" y1="364.6" x2="433.2" y2="401.9" stroke="#8c8c8c" stroke-width="0.75"/>
<line x1="396.9" y1="376.3" x2="433.2" y2="364.6" stroke="#8c8c8c" stroke-width="0.75"/>
<line x1="396.9" y1="414.3" x2="433.2" y2="432.1" stroke="#8c8c8c" stroke-width="0.75"/>
<line x1="396.9" y1="418.3" x2="433.2" y2="383.1" stroke="#8c8c8c" stroke-width="0.75"/>
<line x1="396.9" y1="423.3" x2="433.2" y2="413.3" stroke="#8c8c8c" stroke-width="0.75"/>
<line x1="396.9" y1="437.8" x2="433.2" y2="422.7" stroke="#8c8c8c" stroke-width="0.75"/>
<circle cx="320.0" cy="378.4" r="3.4" fill="#f8df9c"/>
<circle cx="320.0" cy="410.0" r="3.4" fill="#f8df9c"/>
<circle cx="320.0" cy="411.0" r="3.4" fill="#f8df9c"/>
<circle cx="320.0" cy="425.4" r="3.4" fill="#f8df9c"/>
<circle cx="320.0" cy="437.8" r="3.4" fill="#f8df9c"/>
<circle cx="320.0" cy="441.0" r="3.4" fill="#f8df9c"/>
<circle cx="320.0" cy="442.8" r="3.4" fill="#f8df9c"/>
<circle cx="356.6" cy="315.2" r="3.4" fill="#ea7127"/>
<circle cx="356.6" cy="337.7" r="3.4" fill="#ea7127"/>
<circle cx="356.6" cy="384.0" r="3.4" fill="#ea7127"/>
<circle cx="356.6" cy="384.7" r="3.4" fill="#ea7127"/>
<circle cx="356.6" cy="395.8" r="3.4" fill="#ea7127"/>
<circle cx="356.6" cy="397.5" r="3.4" fill="#ea7127"/>
<circle cx="356.6" cy="403.5" r="3.4" fill="#ea7127"/>
<circle cx="396.9" cy="332.7" r="3.4" fill="#f8df9c"/>
<circle cx="396.9" cy="364.6" r="3.4" fill="#f8df9c"/>
<circle cx="396.9" cy="376.3" r="3.4" fill="#f8df9c"/>
<circle cx="396.9" cy="414.3" r="3.4" fill="#f8df9c"/>
<circle cx="396.9" cy="418.3" r="3.4" fill="#f8df9c"/>
<circle cx="396.9" cy="423.3" r="3.4" fill="#f8df9c"/>
<circle cx="396.9" cy="437.8" r="3.4" fill="#f8df9c"/>
<circle cx="433.2" cy="342.1" r="3.4" fill="#ea7127"/>
<circle cx="433.2" cy="364.6" r="3.4" fill="#ea7127"/>
<circle cx="433.2" cy="383.1" r="3.4" fill="#ea7127"/>
<circle cx="433.2" cy="401.9" r="3.4" fill="#ea7127"/>
<circle cx="433.2" cy="413.3" r="3.4" fill="#ea7127"/>
<circle cx="433.2" cy="422.7" r="3.4" fill="#ea7127"/>
<circle cx="433.2" cy="432.1" r="3.4" fill="#ea7127"/>
<line x1="320.0" y1="378.4" x2="356.6" y2="384.0" stroke="#8c8c8c" stroke-width="0.75"/>
<line x1="320.0" y1="410.0" x2="356.6" y2="315.2" stroke="#8c8c8c" stroke-width="0.75"/>
<line x1="320.0" y1="411.0" x2="356.6" y2="395.8" stroke="#8c8c8c" stroke-width="0.75"/>
<line x1="320.0" y1="425.4" x2="356.6" y2="397.5" stroke="#8c8c8c" stroke-width="0.75"/>
<line x1="320.0" y1="438.0" x2="356.6" y2="337.7" stroke="#8c8c8c" stroke-width="0.75"/>
<line x1="320.0" y1="441.0" x2="356.6" y2="384.7" stroke="#8c8c8c" stroke-width="0.75"/>
<line x1="320.0" y1="442.8" x2="356.6" y2="403.5" stroke="#8c8c8c" stroke-width="0.75"/>
<line x1="396.9" y1="332.7" x2="433.2" y2="342.1" stroke="#8c8c8c" stroke-width="0.75"/>
<line x1="396.9" y1="364.6" x2="433.2" y2="401.9" stroke="#8c8c8c" stroke-width="0.75"/>
<line x1="396.9" y1="376.3" x2="433.2" y2="364.6" stroke="#8c8c8c" stroke-width="0.75"/>
<line x1="396.9" y1="414.3" x2="433.2" y2="432.1" stroke="#8c8c8c" stroke-width="0.75"/>
<line x1="396.9" y1="418.3" x2="433.2" y2="383.1" stroke="#8c8c8c" stroke-width="0.75"/>
<line x1="396.9" y1="423.3" x2="433.2" y2="413.3" stroke="#8c8c8c" stroke-width="0.75"/>
<line x1="396.9" y1="437.8" x2="433.2" y2="422.7" stroke="#8c8c8c" stroke-width="0.75"/>
<text x="340.1" y="304.9" font-size="8.5" fill="#231f20" stroke="#231f20" stroke-width="0.18" text-anchor="middle"  textLength="38.8" lengthAdjust="spacingAndGlyphs"><tspan font-style="italic">P</tspan> = 0.0313</text>
<line x1="321.3" y1="308.1" x2="359.3" y2="308.1" stroke="#4a4a4a" stroke-width="1.0"/>
<text x="414.0" y="304.9" font-size="8.5" fill="#231f20" stroke="#231f20" stroke-width="0.18" text-anchor="middle"  textLength="38.8" lengthAdjust="spacingAndGlyphs"><tspan font-style="italic">P</tspan> = 0.9375</text>
<line x1="396.9" y1="308.1" x2="433.2" y2="308.1" stroke="#4a4a4a" stroke-width="1.0"/>
<text x="320.0" y="463.4" font-size="8.5" fill="#231f20" stroke="#231f20" stroke-width="0.18" text-anchor="middle"  textLength="12.4" lengthAdjust="spacingAndGlyphs">Pre</text>
<text x="320.0" y="490.3" font-size="8.5" fill="#231f20" stroke="#231f20" stroke-width="0.18" text-anchor="middle"  textLength="4.4" lengthAdjust="spacingAndGlyphs">7</text>
<text x="356.6" y="463.4" font-size="8.5" fill="#231f20" stroke="#231f20" stroke-width="0.18" text-anchor="middle"  textLength="10.7" lengthAdjust="spacingAndGlyphs">On</text>
<text x="356.6" y="490.3" font-size="8.5" fill="#231f20" stroke="#231f20" stroke-width="0.18" text-anchor="middle"  textLength="4.4" lengthAdjust="spacingAndGlyphs">7</text>
<text x="396.9" y="463.4" font-size="8.5" fill="#231f20" stroke="#231f20" stroke-width="0.18" text-anchor="middle"  textLength="12.4" lengthAdjust="spacingAndGlyphs">Pre</text>
<text x="396.9" y="490.3" font-size="8.5" fill="#231f20" stroke="#231f20" stroke-width="0.18" text-anchor="middle"  textLength="4.4" lengthAdjust="spacingAndGlyphs">7</text>
<text x="433.2" y="463.4" font-size="8.5" fill="#231f20" stroke="#231f20" stroke-width="0.18" text-anchor="middle"  textLength="10.7" lengthAdjust="spacingAndGlyphs">On</text>
<text x="433.2" y="490.3" font-size="8.5" fill="#231f20" stroke="#231f20" stroke-width="0.18" text-anchor="middle"  textLength="4.4" lengthAdjust="spacingAndGlyphs">7</text>
<line x1="307.9" y1="466.3" x2="361.0" y2="466.3" stroke="#333" stroke-width="1.0"/>
<line x1="388.5" y1="466.3" x2="438.2" y2="466.3" stroke="#333" stroke-width="1.0"/>
<text x="334.8" y="476.8" font-size="8.5" fill="#231f20" stroke="#231f20" stroke-width="0.18" text-anchor="middle"  textLength="13.3" lengthAdjust="spacingAndGlyphs">Mut</text>
<text x="413.0" y="476.8" font-size="8.5" fill="#231f20" stroke="#231f20" stroke-width="0.18" text-anchor="middle"  textLength="12.4" lengthAdjust="spacingAndGlyphs">WT</text>
<text x="494.4" y="301.8" font-size="11" font-weight="bold" fill="#000">e</text>
<line x1="532.9" y1="301.1" x2="532.9" y2="449.8" stroke="#b8b8b8" stroke-width="1.0"/>
<line x1="532.9" y1="449.8" x2="685.0" y2="449.8" stroke="#b8b8b8" stroke-width="1.0"/>
<line x1="529.7" y1="444.5" x2="532.9" y2="444.5" stroke="#444" stroke-width="0.7"/>
<text x="526.1" y="447.6" font-size="8.5" fill="#231f20" stroke="#231f20" stroke-width="0.18" text-anchor="end"  textLength="4.4" lengthAdjust="spacingAndGlyphs">0</text>
<line x1="529.7" y1="413.3" x2="532.9" y2="413.3" stroke="#444" stroke-width="0.7"/>
<text x="526.1" y="416.4" font-size="8.5" fill="#231f20" stroke="#231f20" stroke-width="0.18" text-anchor="end"  textLength="15.6" lengthAdjust="spacingAndGlyphs">0.05</text>
<line x1="529.7" y1="382.4" x2="532.9" y2="382.4" stroke="#444" stroke-width="0.7"/>
<text x="526.1" y="385.5" font-size="8.5" fill="#231f20" stroke="#231f20" stroke-width="0.18" text-anchor="end"  textLength="15.6" lengthAdjust="spacingAndGlyphs">0.10</text>
<line x1="529.7" y1="351.2" x2="532.9" y2="351.2" stroke="#444" stroke-width="0.7"/>
<text x="526.1" y="354.3" font-size="8.5" fill="#231f20" stroke="#231f20" stroke-width="0.18" text-anchor="end"  textLength="15.6" lengthAdjust="spacingAndGlyphs">0.15</text>
<line x1="529.7" y1="320.3" x2="532.9" y2="320.3" stroke="#444" stroke-width="0.7"/>
<text x="526.1" y="323.4" font-size="8.5" fill="#231f20" stroke="#231f20" stroke-width="0.18" text-anchor="end"  textLength="15.6" lengthAdjust="spacingAndGlyphs">0.20</text>
<line x1="553.4" y1="450.3" x2="553.4" y2="452.8" stroke="#444" stroke-width="0.7"/>
<line x1="589.2" y1="450.3" x2="589.2" y2="452.8" stroke="#444" stroke-width="0.7"/>
<line x1="630.6" y1="450.3" x2="630.6" y2="452.8" stroke="#444" stroke-width="0.7"/>
<line x1="666.1" y1="450.3" x2="666.1" y2="452.8" stroke="#444" stroke-width="0.7"/>
<text transform="translate(501.7,374.8) rotate(-90)" font-size="8.5" fill="#231f20" text-anchor="middle" textLength="121.5" lengthAdjust="spacingAndGlyphs">Proportion among all immune cells</text>
<line x1="553.4" y1="401.5" x2="553.4" y2="413.3" stroke="#f6d88c" stroke-width="1.3"/>
<rect x="544.6" y="413.3" width="17.5" height="29.5" stroke="#f6d88c" stroke-width="1.3" fill="none"/>
<line x1="544.6" y1="435.1" x2="562.1" y2="435.1" stroke="#f6d88c" stroke-width="1.3"/>
<line x1="630.6" y1="420.3" x2="630.6" y2="426.7" stroke="#f6d88c" stroke-width="1.3"/>
<rect x="621.9" y="426.7" width="17.5" height="16.8" stroke="#f6d88c" stroke-width="1.3" fill="none"/>
<line x1="621.9" y1="436.1" x2="639.4" y2="436.1" stroke="#f6d88c" stroke-width="1.3"/>
<line x1="582.6" y1="444.5" x2="597.7" y2="444.5" stroke="#ea7127" stroke-width="1.3"/>
<line x1="659.8" y1="444.5" x2="675.0" y2="444.5" stroke="#ea7127" stroke-width="1.3"/>
<line x1="553.4" y1="326.0" x2="589.2" y2="444.5" stroke="#8c8c8c" stroke-width="0.75"/>
<line x1="553.4" y1="401.5" x2="589.2" y2="444.5" stroke="#8c8c8c" stroke-width="0.75"/>
<line x1="553.4" y1="426.0" x2="589.2" y2="444.5" stroke="#8c8c8c" stroke-width="0.75"/>
<line x1="553.4" y1="434.4" x2="589.2" y2="444.5" stroke="#8c8c8c" stroke-width="0.75"/>
<line x1="553.4" y1="442.2" x2="589.2" y2="444.5" stroke="#8c8c8c" stroke-width="0.75"/>
<line x1="553.4" y1="443.5" x2="589.2" y2="444.5" stroke="#8c8c8c" stroke-width="0.75"/>
<line x1="553.4" y1="444.0" x2="589.2" y2="444.5" stroke="#8c8c8c" stroke-width="0.75"/>
<line x1="630.6" y1="420.5" x2="666.1" y2="444.5" stroke="#8c8c8c" stroke-width="0.75"/>
<line x1="630.6" y1="425.0" x2="666.1" y2="444.5" stroke="#8c8c8c" stroke-width="0.75"/>
<line x1="630.6" y1="430.3" x2="666.1" y2="444.5" stroke="#8c8c8c" stroke-width="0.75"/>
<line x1="630.6" y1="437.5" x2="666.1" y2="421.7" stroke="#8c8c8c" stroke-width="0.75"/>
<line x1="630.6" y1="444.3" x2="666.1" y2="444.5" stroke="#8c8c8c" stroke-width="0.75"/>
<line x1="630.6" y1="444.3" x2="666.1" y2="444.5" stroke="#8c8c8c" stroke-width="0.75"/>
<line x1="630.6" y1="444.3" x2="666.1" y2="444.5" stroke="#8c8c8c" stroke-width="0.75"/>
<circle cx="553.4" cy="326.0" r="3.4" fill="#f8df9c"/>
<circle cx="553.4" cy="401.5" r="3.4" fill="#f8df9c"/>
<circle cx="553.4" cy="426.0" r="3.4" fill="#f8df9c"/>
<circle cx="553.4" cy="434.4" r="3.4" fill="#f8df9c"/>
<circle cx="553.4" cy="442.2" r="3.4" fill="#f8df9c"/>
<circle cx="553.4" cy="443.5" r="3.4" fill="#f8df9c"/>
<circle cx="553.4" cy="444.0" r="3.4" fill="#f8df9c"/>
<circle cx="589.2" cy="444.5" r="3.4" fill="#ea7127"/>
<circle cx="589.2" cy="444.5" r="3.4" fill="#ea7127"/>
<circle cx="589.2" cy="444.5" r="3.4" fill="#ea7127"/>
<circle cx="589.2" cy="444.5" r="3.4" fill="#ea7127"/>
<circle cx="589.2" cy="444.5" r="3.4" fill="#ea7127"/>
<circle cx="589.2" cy="444.5" r="3.4" fill="#ea7127"/>
<circle cx="589.2" cy="444.5" r="3.4" fill="#ea7127"/>
<circle cx="630.6" cy="420.5" r="3.4" fill="#f8df9c"/>
<circle cx="630.6" cy="425.0" r="3.4" fill="#f8df9c"/>
<circle cx="630.6" cy="430.3" r="3.4" fill="#f8df9c"/>
<circle cx="630.6" cy="437.5" r="3.4" fill="#f8df9c"/>
<circle cx="630.6" cy="444.3" r="3.4" fill="#f8df9c"/>
<circle cx="630.6" cy="444.3" r="3.4" fill="#f8df9c"/>
<circle cx="630.6" cy="444.3" r="3.4" fill="#f8df9c"/>
<circle cx="666.1" cy="421.7" r="3.4" fill="#ea7127"/>
<circle cx="666.1" cy="444.5" r="3.4" fill="#ea7127"/>
<circle cx="666.1" cy="444.5" r="3.4" fill="#ea7127"/>
<circle cx="666.1" cy="444.5" r="3.4" fill="#ea7127"/>
<circle cx="666.1" cy="444.5" r="3.4" fill="#ea7127"/>
<circle cx="666.1" cy="444.5" r="3.4" fill="#ea7127"/>
<circle cx="666.1" cy="444.5" r="3.4" fill="#ea7127"/>
<line x1="553.4" y1="326.0" x2="589.2" y2="444.5" stroke="#8c8c8c" stroke-width="0.75"/>
<line x1="553.4" y1="401.5" x2="589.2" y2="444.5" stroke="#8c8c8c" stroke-width="0.75"/>
<line x1="553.4" y1="426.0" x2="589.2" y2="444.5" stroke="#8c8c8c" stroke-width="0.75"/>
<line x1="553.4" y1="434.4" x2="589.2" y2="444.5" stroke="#8c8c8c" stroke-width="0.75"/>
<line x1="553.4" y1="442.2" x2="589.2" y2="444.5" stroke="#8c8c8c" stroke-width="0.75"/>
<line x1="553.4" y1="443.5" x2="589.2" y2="444.5" stroke="#8c8c8c" stroke-width="0.75"/>
<line x1="553.4" y1="444.0" x2="589.2" y2="444.5" stroke="#8c8c8c" stroke-width="0.75"/>
<line x1="630.6" y1="420.5" x2="666.1" y2="444.5" stroke="#8c8c8c" stroke-width="0.75"/>
<line x1="630.6" y1="425.0" x2="666.1" y2="444.5" stroke="#8c8c8c" stroke-width="0.75"/>
<line x1="630.6" y1="430.3" x2="666.1" y2="444.5" stroke="#8c8c8c" stroke-width="0.75"/>
<line x1="630.6" y1="437.5" x2="666.1" y2="421.7" stroke="#8c8c8c" stroke-width="0.75"/>
<line x1="630.6" y1="444.3" x2="666.1" y2="444.5" stroke="#8c8c8c" stroke-width="0.75"/>
<line x1="630.6" y1="444.3" x2="666.1" y2="444.5" stroke="#8c8c8c" stroke-width="0.75"/>
<line x1="630.6" y1="444.3" x2="666.1" y2="444.5" stroke="#8c8c8c" stroke-width="0.75"/>
<text x="570.8" y="315.0" font-size="8.5" fill="#231f20" stroke="#231f20" stroke-width="0.18" text-anchor="middle"  textLength="38.8" lengthAdjust="spacingAndGlyphs"><tspan font-style="italic">P</tspan> = 0.0591</text>
<line x1="553.0" y1="318.2" x2="589.3" y2="318.2" stroke="#4a4a4a" stroke-width="1.0"/>
<text x="648.8" y="403.3" font-size="8.5" fill="#231f20" stroke="#231f20" stroke-width="0.18" text-anchor="middle"  textLength="38.8" lengthAdjust="spacingAndGlyphs"><tspan font-style="italic">P</tspan> = 0.3613</text>
<line x1="629.6" y1="405.5" x2="668.2" y2="405.5" stroke="#4a4a4a" stroke-width="1.0"/>
<text x="553.4" y="463.4" font-size="8.5" fill="#231f20" stroke="#231f20" stroke-width="0.18" text-anchor="middle"  textLength="12.4" lengthAdjust="spacingAndGlyphs">Pre</text>
<text x="553.4" y="490.3" font-size="8.5" fill="#231f20" stroke="#231f20" stroke-width="0.18" text-anchor="middle"  textLength="4.4" lengthAdjust="spacingAndGlyphs">7</text>
<text x="589.2" y="463.4" font-size="8.5" fill="#231f20" stroke="#231f20" stroke-width="0.18" text-anchor="middle"  textLength="10.7" lengthAdjust="spacingAndGlyphs">On</text>
<text x="589.2" y="490.3" font-size="8.5" fill="#231f20" stroke="#231f20" stroke-width="0.18" text-anchor="middle"  textLength="4.4" lengthAdjust="spacingAndGlyphs">7</text>
<text x="630.6" y="463.4" font-size="8.5" fill="#231f20" stroke="#231f20" stroke-width="0.18" text-anchor="middle"  textLength="12.4" lengthAdjust="spacingAndGlyphs">Pre</text>
<text x="630.6" y="490.3" font-size="8.5" fill="#231f20" stroke="#231f20" stroke-width="0.18" text-anchor="middle"  textLength="4.4" lengthAdjust="spacingAndGlyphs">7</text>
<text x="666.1" y="463.4" font-size="8.5" fill="#231f20" stroke="#231f20" stroke-width="0.18" text-anchor="middle"  textLength="10.7" lengthAdjust="spacingAndGlyphs">On</text>
<text x="666.1" y="490.3" font-size="8.5" fill="#231f20" stroke="#231f20" stroke-width="0.18" text-anchor="middle"  textLength="4.4" lengthAdjust="spacingAndGlyphs">7</text>
<line x1="540.6" y1="466.3" x2="593.3" y2="466.3" stroke="#333" stroke-width="1.0"/>
<line x1="621.2" y1="466.3" x2="669.9" y2="466.3" stroke="#333" stroke-width="1.0"/>
<text x="567.5" y="476.8" font-size="8.5" fill="#231f20" stroke="#231f20" stroke-width="0.18" text-anchor="middle"  textLength="13.3" lengthAdjust="spacingAndGlyphs">Mut</text>
<text x="645.7" y="476.8" font-size="8.5" fill="#231f20" stroke="#231f20" stroke-width="0.18" text-anchor="middle"  textLength="12.4" lengthAdjust="spacingAndGlyphs">WT</text>
<text x="-0.3" y="512.9" font-size="11" font-weight="bold" fill="#000">f</text>
<line x1="62.0" y1="518.5" x2="62.0" y2="667.2" stroke="#b8b8b8" stroke-width="1.0"/>
<line x1="62.0" y1="667.2" x2="215.0" y2="667.2" stroke="#b8b8b8" stroke-width="1.0"/>
<line x1="58.8" y1="661.2" x2="62.0" y2="661.2" stroke="#444" stroke-width="0.7"/>
<text x="55.2" y="664.3" font-size="8.5" fill="#231f20" stroke="#231f20" stroke-width="0.18" text-anchor="end"  textLength="4.4" lengthAdjust="spacingAndGlyphs">0</text>
<line x1="58.8" y1="628.3" x2="62.0" y2="628.3" stroke="#444" stroke-width="0.7"/>
<text x="55.2" y="631.4" font-size="8.5" fill="#231f20" stroke="#231f20" stroke-width="0.18" text-anchor="end"  textLength="15.6" lengthAdjust="spacingAndGlyphs">0.05</text>
<line x1="58.8" y1="595.0" x2="62.0" y2="595.0" stroke="#444" stroke-width="0.7"/>
<text x="55.2" y="598.1" font-size="8.5" fill="#231f20" stroke="#231f20" stroke-width="0.18" text-anchor="end"  textLength="15.6" lengthAdjust="spacingAndGlyphs">0.10</text>
<line x1="58.8" y1="562.1" x2="62.0" y2="562.1" stroke="#444" stroke-width="0.7"/>
<text x="55.2" y="565.2" font-size="8.5" fill="#231f20" stroke="#231f20" stroke-width="0.18" text-anchor="end"  textLength="15.6" lengthAdjust="spacingAndGlyphs">0.15</text>
<line x1="58.8" y1="529.5" x2="62.0" y2="529.5" stroke="#444" stroke-width="0.7"/>
<text x="55.2" y="532.6" font-size="8.5" fill="#231f20" stroke="#231f20" stroke-width="0.18" text-anchor="end"  textLength="15.6" lengthAdjust="spacingAndGlyphs">0.20</text>
<line x1="80.6" y1="667.7" x2="80.6" y2="670.2" stroke="#444" stroke-width="0.7"/>
<line x1="120.9" y1="667.7" x2="120.9" y2="670.2" stroke="#444" stroke-width="0.7"/>
<line x1="163.5" y1="667.7" x2="163.5" y2="670.2" stroke="#444" stroke-width="0.7"/>
<line x1="203.8" y1="667.7" x2="203.8" y2="670.2" stroke="#444" stroke-width="0.7"/>
<text transform="translate(32.5,593.2) rotate(-90)" font-size="8.5" fill="#231f20" text-anchor="middle" textLength="122.6" lengthAdjust="spacingAndGlyphs">Proportion among all immune cells</text>
<line x1="80.6" y1="534.3" x2="80.6" y2="586.6" stroke="#f6d88c" stroke-width="1.3"/>
<line x1="80.6" y1="634.3" x2="80.6" y2="661.2" stroke="#f6d88c" stroke-width="1.3"/>
<rect x="71.8" y="586.6" width="17.5" height="47.7" stroke="#f6d88c" stroke-width="1.3" fill="none"/>
<line x1="71.8" y1="628.3" x2="89.3" y2="628.3" stroke="#f6d88c" stroke-width="1.3"/>
<line x1="120.9" y1="530.2" x2="120.9" y2="576.6" stroke="#ea7127" stroke-width="1.3"/>
<line x1="120.9" y1="613.2" x2="120.9" y2="620.2" stroke="#ea7127" stroke-width="1.3"/>
<rect x="112.2" y="576.6" width="17.5" height="36.6" stroke="#ea7127" stroke-width="1.3" fill="none"/>
<line x1="112.2" y1="600.7" x2="129.7" y2="600.7" stroke="#ea7127" stroke-width="1.3"/>
<line x1="163.5" y1="547.7" x2="163.5" y2="583.3" stroke="#f6d88c" stroke-width="1.3"/>
<line x1="163.5" y1="630.3" x2="163.5" y2="637.0" stroke="#f6d88c" stroke-width="1.3"/>
<rect x="154.8" y="583.3" width="17.5" height="47.0" stroke="#f6d88c" stroke-width="1.3" fill="none"/>
<line x1="154.8" y1="606.8" x2="172.2" y2="606.8" stroke="#f6d88c" stroke-width="1.3"/>
<line x1="203.8" y1="557.1" x2="203.8" y2="587.3" stroke="#ea7127" stroke-width="1.3"/>
<line x1="203.8" y1="635.0" x2="203.8" y2="649.4" stroke="#ea7127" stroke-width="1.3"/>
<rect x="195.1" y="587.3" width="17.5" height="47.7" stroke="#ea7127" stroke-width="1.3" fill="none"/>
<line x1="195.1" y1="599.1" x2="212.6" y2="599.1" stroke="#ea7127" stroke-width="1.3"/>
<line x1="80.6" y1="534.3" x2="120.9" y2="601.0" stroke="#8c8c8c" stroke-width="0.75"/>
<line x1="80.6" y1="549.4" x2="120.9" y2="613.0" stroke="#8c8c8c" stroke-width="0.75"/>
<line x1="80.6" y1="624.2" x2="120.9" y2="530.2" stroke="#8c8c8c" stroke-width="0.75"/>
<line x1="80.6" y1="628.3" x2="120.9" y2="553.1" stroke="#8c8c8c" stroke-width="0.75"/>
<line x1="80.6" y1="632.6" x2="120.9" y2="613.2" stroke="#8c8c8c" stroke-width="0.75"/>
<line x1="80.6" y1="636.0" x2="120.9" y2="601.7" stroke="#8c8c8c" stroke-width="0.75"/>
<line x1="80.6" y1="661.2" x2="120.9" y2="620.2" stroke="#8c8c8c" stroke-width="0.75"/>
<line x1="163.5" y1="547.7" x2="203.8" y2="557.1" stroke="#8c8c8c" stroke-width="0.75"/>
<line x1="163.5" y1="573.2" x2="203.8" y2="594.7" stroke="#8c8c8c" stroke-width="0.75"/>
<line x1="163.5" y1="593.0" x2="203.8" y2="580.6" stroke="#8c8c8c" stroke-width="0.75"/>
<line x1="163.5" y1="606.8" x2="203.8" y2="649.4" stroke="#8c8c8c" stroke-width="0.75"/>
<line x1="163.5" y1="625.9" x2="203.8" y2="599.1" stroke="#8c8c8c" stroke-width="0.75"/>
<line x1="163.5" y1="634.3" x2="203.8" y2="630.3" stroke="#8c8c8c" stroke-width="0.75"/>
<line x1="163.5" y1="637.0" x2="203.8" y2="639.4" stroke="#8c8c8c" stroke-width="0.75"/>
<circle cx="80.6" cy="534.3" r="3.4" fill="#f8df9c"/>
<circle cx="80.6" cy="549.4" r="3.4" fill="#f8df9c"/>
<circle cx="80.6" cy="624.2" r="3.4" fill="#f8df9c"/>
<circle cx="80.6" cy="628.3" r="3.4" fill="#f8df9c"/>
<circle cx="80.6" cy="632.6" r="3.4" fill="#f8df9c"/>
<circle cx="80.6" cy="636.0" r="3.4" fill="#f8df9c"/>
<circle cx="80.6" cy="661.2" r="3.4" fill="#f8df9c"/>
<circle cx="120.9" cy="530.2" r="3.4" fill="#ea7127"/>
<circle cx="120.9" cy="553.1" r="3.4" fill="#ea7127"/>
<circle cx="120.9" cy="600.7" r="3.4" fill="#ea7127"/>
<circle cx="120.9" cy="601.7" r="3.4" fill="#ea7127"/>
<circle cx="120.9" cy="613.2" r="3.4" fill="#ea7127"/>
<circle cx="120.9" cy="613.2" r="3.4" fill="#ea7127"/>
<circle cx="120.9" cy="620.2" r="3.4" fill="#ea7127"/>
<circle cx="163.5" cy="547.7" r="3.4" fill="#f8df9c"/>
<circle cx="163.5" cy="573.2" r="3.4" fill="#f8df9c"/>
<circle cx="163.5" cy="593.0" r="3.4" fill="#f8df9c"/>
<circle cx="163.5" cy="606.8" r="3.4" fill="#f8df9c"/>
<circle cx="163.5" cy="625.9" r="3.4" fill="#f8df9c"/>
<circle cx="163.5" cy="634.3" r="3.4" fill="#f8df9c"/>
<circle cx="163.5" cy="637.0" r="3.4" fill="#f8df9c"/>
<circle cx="203.8" cy="557.1" r="3.4" fill="#ea7127"/>
<circle cx="203.8" cy="580.6" r="3.4" fill="#ea7127"/>
<circle cx="203.8" cy="594.7" r="3.4" fill="#ea7127"/>
<circle cx="203.8" cy="599.1" r="3.4" fill="#ea7127"/>
<circle cx="203.8" cy="630.3" r="3.4" fill="#ea7127"/>
<circle cx="203.8" cy="639.4" r="3.4" fill="#ea7127"/>
<circle cx="203.8" cy="649.4" r="3.4" fill="#ea7127"/>
<line x1="80.6" y1="534.3" x2="120.9" y2="601.0" stroke="#8c8c8c" stroke-width="0.75"/>
<line x1="80.6" y1="549.4" x2="120.9" y2="613.0" stroke="#8c8c8c" stroke-width="0.75"/>
<line x1="80.6" y1="624.2" x2="120.9" y2="530.2" stroke="#8c8c8c" stroke-width="0.75"/>
<line x1="80.6" y1="628.3" x2="120.9" y2="553.1" stroke="#8c8c8c" stroke-width="0.75"/>
<line x1="80.6" y1="632.6" x2="120.9" y2="613.2" stroke="#8c8c8c" stroke-width="0.75"/>
<line x1="80.6" y1="636.0" x2="120.9" y2="601.7" stroke="#8c8c8c" stroke-width="0.75"/>
<line x1="80.6" y1="661.2" x2="120.9" y2="620.2" stroke="#8c8c8c" stroke-width="0.75"/>
<line x1="163.5" y1="547.7" x2="203.8" y2="557.1" stroke="#8c8c8c" stroke-width="0.75"/>
<line x1="163.5" y1="573.2" x2="203.8" y2="594.7" stroke="#8c8c8c" stroke-width="0.75"/>
<line x1="163.5" y1="593.0" x2="203.8" y2="580.6" stroke="#8c8c8c" stroke-width="0.75"/>
<line x1="163.5" y1="606.8" x2="203.8" y2="649.4" stroke="#8c8c8c" stroke-width="0.75"/>
<line x1="163.5" y1="625.9" x2="203.8" y2="599.1" stroke="#8c8c8c" stroke-width="0.75"/>
<line x1="163.5" y1="634.3" x2="203.8" y2="630.3" stroke="#8c8c8c" stroke-width="0.75"/>
<line x1="163.5" y1="637.0" x2="203.8" y2="639.4" stroke="#8c8c8c" stroke-width="0.75"/>
<text x="99.0" y="520.6" font-size="8.5" fill="#231f20" stroke="#231f20" stroke-width="0.18" text-anchor="middle"  textLength="38.8" lengthAdjust="spacingAndGlyphs"><tspan font-style="italic">P</tspan> = 0.4688</text>
<line x1="80.6" y1="523.8" x2="119.2" y2="523.8" stroke="#4a4a4a" stroke-width="1.0"/>
<text x="184.7" y="536.7" font-size="8.5" fill="#231f20" stroke="#231f20" stroke-width="0.18" text-anchor="middle"  textLength="38.8" lengthAdjust="spacingAndGlyphs"><tspan font-style="italic">P</tspan> = 0.8125</text>
<line x1="164.5" y1="539.9" x2="203.2" y2="539.9" stroke="#4a4a4a" stroke-width="1.0"/>
<text x="80.6" y="682.2" font-size="8.5" fill="#231f20" stroke="#231f20" stroke-width="0.18" text-anchor="middle"  textLength="12.4" lengthAdjust="spacingAndGlyphs">Pre</text>
<text x="80.6" y="709.7" font-size="8.5" fill="#231f20" stroke="#231f20" stroke-width="0.18" text-anchor="middle"  textLength="4.4" lengthAdjust="spacingAndGlyphs">7</text>
<text x="120.9" y="682.2" font-size="8.5" fill="#231f20" stroke="#231f20" stroke-width="0.18" text-anchor="middle"  textLength="10.7" lengthAdjust="spacingAndGlyphs">On</text>
<text x="120.9" y="709.7" font-size="8.5" fill="#231f20" stroke="#231f20" stroke-width="0.18" text-anchor="middle"  textLength="4.4" lengthAdjust="spacingAndGlyphs">7</text>
<text x="163.5" y="682.2" font-size="8.5" fill="#231f20" stroke="#231f20" stroke-width="0.18" text-anchor="middle"  textLength="12.4" lengthAdjust="spacingAndGlyphs">Pre</text>
<text x="163.5" y="709.7" font-size="8.5" fill="#231f20" stroke="#231f20" stroke-width="0.18" text-anchor="middle"  textLength="4.4" lengthAdjust="spacingAndGlyphs">7</text>
<text x="203.8" y="682.2" font-size="8.5" fill="#231f20" stroke="#231f20" stroke-width="0.18" text-anchor="middle"  textLength="10.7" lengthAdjust="spacingAndGlyphs">On</text>
<text x="203.8" y="709.7" font-size="8.5" fill="#231f20" stroke="#231f20" stroke-width="0.18" text-anchor="middle"  textLength="4.4" lengthAdjust="spacingAndGlyphs">7</text>
<line x1="73.2" y1="685.1" x2="126.9" y2="685.1" stroke="#333" stroke-width="1.0"/>
<line x1="158.5" y1="685.1" x2="207.5" y2="685.1" stroke="#333" stroke-width="1.0"/>
<text x="99.7" y="696.3" font-size="8.5" fill="#231f20" stroke="#231f20" stroke-width="0.18" text-anchor="middle"  textLength="13.3" lengthAdjust="spacingAndGlyphs">Mut</text>
<text x="183.0" y="696.3" font-size="8.5" fill="#231f20" stroke="#231f20" stroke-width="0.18" text-anchor="middle"  textLength="12.4" lengthAdjust="spacingAndGlyphs">WT</text>
<text x="52.0" y="682.2" font-size="8.5" fill="#231f20" stroke="#231f20" stroke-width="0.18" text-anchor="end"  textLength="34.8" lengthAdjust="spacingAndGlyphs">Timepoint</text>
<text x="52.0" y="696.3" font-size="8.5" fill="#231f20" stroke="#231f20" stroke-width="0.18" text-anchor="end"  textLength="36.0" lengthAdjust="spacingAndGlyphs"><tspan font-style="italic">PPP2R1A</tspan></text>
<text x="52.0" y="709.7" font-size="8.5" fill="#231f20" stroke="#231f20" stroke-width="0.18" text-anchor="end"  textLength="40.7" lengthAdjust="spacingAndGlyphs">Sample <tspan font-style="italic">n</tspan> =</text>
<text x="260.2" y="512.9" font-size="11" font-weight="bold" fill="#000">g</text>
<line x1="294.5" y1="518.5" x2="294.5" y2="667.5" stroke="#b8b8b8" stroke-width="1.0"/>
<line x1="294.5" y1="667.5" x2="446.6" y2="667.5" stroke="#b8b8b8" stroke-width="1.0"/>
<line x1="291.3" y1="661.2" x2="294.5" y2="661.2" stroke="#444" stroke-width="0.7"/>
<text x="287.7" y="664.3" font-size="8.5" fill="#231f20" stroke="#231f20" stroke-width="0.18" text-anchor="end"  textLength="4.4" lengthAdjust="spacingAndGlyphs">0</text>
<line x1="291.3" y1="618.5" x2="294.5" y2="618.5" stroke="#444" stroke-width="0.7"/>
<text x="287.7" y="621.6" font-size="8.5" fill="#231f20" stroke="#231f20" stroke-width="0.18" text-anchor="end"  textLength="4.4" lengthAdjust="spacingAndGlyphs">1</text>
<line x1="291.3" y1="576.6" x2="294.5" y2="576.6" stroke="#444" stroke-width="0.7"/>
<text x="287.7" y="579.7" font-size="8.5" fill="#231f20" stroke="#231f20" stroke-width="0.18" text-anchor="end"  textLength="4.4" lengthAdjust="spacingAndGlyphs">2</text>
<line x1="291.3" y1="533.6" x2="294.5" y2="533.6" stroke="#444" stroke-width="0.7"/>
<text x="287.7" y="536.7" font-size="8.5" fill="#231f20" stroke="#231f20" stroke-width="0.18" text-anchor="end"  textLength="4.4" lengthAdjust="spacingAndGlyphs">3</text>
<line x1="318.0" y1="668.0" x2="318.0" y2="670.5" stroke="#444" stroke-width="0.7"/>
<line x1="352.6" y1="668.0" x2="352.6" y2="670.5" stroke="#444" stroke-width="0.7"/>
<line x1="395.2" y1="668.0" x2="395.2" y2="670.5" stroke="#444" stroke-width="0.7"/>
<line x1="430.5" y1="668.0" x2="430.5" y2="670.5" stroke="#444" stroke-width="0.7"/>
<text transform="translate(274.0,593.2) rotate(-90)" font-size="8.5" fill="#231f20" text-anchor="middle" textLength="122.6" lengthAdjust="spacingAndGlyphs">log<tspan font-size="5" dy="2">10</tspan><tspan dy="-2">[total number of unique TCRs]</tspan></text>
<line x1="318.0" y1="582.9" x2="318.0" y2="621.6" stroke="#f6d88c" stroke-width="1.3"/>
<line x1="318.0" y1="655.1" x2="318.0" y2="661.2" stroke="#f6d88c" stroke-width="1.3"/>
<rect x="309.2" y="621.6" width="17.5" height="33.5" stroke="#f6d88c" stroke-width="1.3" fill="none"/>
<line x1="309.2" y1="632.0" x2="326.8" y2="632.0" stroke="#f6d88c" stroke-width="1.3"/>
<line x1="352.6" y1="553.7" x2="352.6" y2="574.5" stroke="#ea7127" stroke-width="1.3"/>
<line x1="352.6" y1="594.7" x2="352.6" y2="616.9" stroke="#ea7127" stroke-width="1.3"/>
<rect x="343.9" y="574.5" width="17.5" height="20.2" stroke="#ea7127" stroke-width="1.3" fill="none"/>
<line x1="343.9" y1="584.6" x2="361.4" y2="584.6" stroke="#ea7127" stroke-width="1.3"/>
<line x1="395.2" y1="580.0" x2="395.2" y2="585.6" stroke="#f6d88c" stroke-width="1.3"/>
<line x1="395.2" y1="621.9" x2="395.2" y2="661.2" stroke="#f6d88c" stroke-width="1.3"/>
<rect x="386.4" y="585.6" width="17.5" height="36.3" stroke="#f6d88c" stroke-width="1.3" fill="none"/>
<line x1="386.4" y1="594.0" x2="403.9" y2="594.0" stroke="#f6d88c" stroke-width="1.3"/>
<line x1="430.5" y1="579.9" x2="430.5" y2="584.6" stroke="#ea7127" stroke-width="1.3"/>
<line x1="430.5" y1="602.4" x2="430.5" y2="609.1" stroke="#ea7127" stroke-width="1.3"/>
<rect x="421.8" y="584.6" width="17.5" height="17.8" stroke="#ea7127" stroke-width="1.3" fill="none"/>
<line x1="421.8" y1="590.7" x2="439.2" y2="590.7" stroke="#ea7127" stroke-width="1.3"/>
<line x1="318.0" y1="582.9" x2="352.6" y2="597.4" stroke="#8c8c8c" stroke-width="0.75"/>
<line x1="318.0" y1="619.2" x2="352.6" y2="571.5" stroke="#8c8c8c" stroke-width="0.75"/>
<line x1="318.0" y1="628.3" x2="352.6" y2="583.9" stroke="#8c8c8c" stroke-width="0.75"/>
<line x1="318.0" y1="636.0" x2="352.6" y2="553.7" stroke="#8c8c8c" stroke-width="0.75"/>
<line x1="318.0" y1="661.2" x2="352.6" y2="584.6" stroke="#8c8c8c" stroke-width="0.75"/>
<line x1="318.0" y1="661.2" x2="352.6" y2="616.9" stroke="#8c8c8c" stroke-width="0.75"/>
<line x1="395.2" y1="579.9" x2="430.5" y2="579.9" stroke="#8c8c8c" stroke-width="0.75"/>
<line x1="395.2" y1="582.3" x2="430.5" y2="590.7" stroke="#8c8c8c" stroke-width="0.75"/>
<line x1="395.2" y1="588.0" x2="430.5" y2="595.7" stroke="#8c8c8c" stroke-width="0.75"/>
<line x1="395.2" y1="592.3" x2="430.5" y2="589.0" stroke="#8c8c8c" stroke-width="0.75"/>
<line x1="395.2" y1="595.7" x2="430.5" y2="609.1" stroke="#8c8c8c" stroke-width="0.75"/>
<line x1="395.2" y1="647.8" x2="430.5" y2="661.2" stroke="#8c8c8c" stroke-width="0.75"/>
<line x1="395.2" y1="661.2" x2="430.5" y2="524.2" stroke="#8c8c8c" stroke-width="0.75"/>
<circle cx="318.0" cy="582.9" r="2.8" fill="#f8df9c"/>
<circle cx="318.0" cy="619.2" r="2.8" fill="#f8df9c"/>
<circle cx="318.0" cy="628.3" r="2.8" fill="#f8df9c"/>
<circle cx="318.0" cy="636.0" r="2.8" fill="#f8df9c"/>
<circle cx="318.0" cy="661.2" r="2.8" fill="#f8df9c"/>
<circle cx="318.0" cy="661.2" r="2.8" fill="#f8df9c"/>
<circle cx="352.6" cy="553.7" r="2.8" fill="#ea7127"/>
<circle cx="352.6" cy="571.5" r="2.8" fill="#ea7127"/>
<circle cx="352.6" cy="583.9" r="2.8" fill="#ea7127"/>
<circle cx="352.6" cy="584.6" r="2.8" fill="#ea7127"/>
<circle cx="352.6" cy="597.4" r="2.8" fill="#ea7127"/>
<circle cx="352.6" cy="616.9" r="2.8" fill="#ea7127"/>
<circle cx="395.2" cy="579.9" r="2.8" fill="#f8df9c"/>
<circle cx="395.2" cy="582.3" r="2.8" fill="#f8df9c"/>
<circle cx="395.2" cy="588.0" r="2.8" fill="#f8df9c"/>
<circle cx="395.2" cy="592.3" r="2.8" fill="#f8df9c"/>
<circle cx="395.2" cy="595.7" r="2.8" fill="#f8df9c"/>
<circle cx="395.2" cy="647.8" r="2.8" fill="#f8df9c"/>
<circle cx="395.2" cy="661.2" r="2.8" fill="#f8df9c"/>
<circle cx="430.5" cy="524.2" r="2.8" fill="#ea7127"/>
<circle cx="430.5" cy="579.9" r="2.8" fill="#ea7127"/>
<circle cx="430.5" cy="589.0" r="2.8" fill="#ea7127"/>
<circle cx="430.5" cy="590.7" r="2.8" fill="#ea7127"/>
<circle cx="430.5" cy="595.7" r="2.8" fill="#ea7127"/>
<circle cx="430.5" cy="609.1" r="2.8" fill="#ea7127"/>
<circle cx="430.5" cy="661.2" r="2.8" fill="#ea7127"/>
<line x1="318.0" y1="582.9" x2="352.6" y2="597.4" stroke="#8c8c8c" stroke-width="0.75"/>
<line x1="318.0" y1="619.2" x2="352.6" y2="571.5" stroke="#8c8c8c" stroke-width="0.75"/>
<line x1="318.0" y1="628.3" x2="352.6" y2="583.9" stroke="#8c8c8c" stroke-width="0.75"/>
<line x1="318.0" y1="636.0" x2="352.6" y2="553.7" stroke="#8c8c8c" stroke-width="0.75"/>
<line x1="318.0" y1="661.2" x2="352.6" y2="584.6" stroke="#8c8c8c" stroke-width="0.75"/>
<line x1="318.0" y1="661.2" x2="352.6" y2="616.9" stroke="#8c8c8c" stroke-width="0.75"/>
<line x1="395.2" y1="579.9" x2="430.5" y2="579.9" stroke="#8c8c8c" stroke-width="0.75"/>
<line x1="395.2" y1="582.3" x2="430.5" y2="590.7" stroke="#8c8c8c" stroke-width="0.75"/>
<line x1="395.2" y1="588.0" x2="430.5" y2="595.7" stroke="#8c8c8c" stroke-width="0.75"/>
<line x1="395.2" y1="592.3" x2="430.5" y2="589.0" stroke="#8c8c8c" stroke-width="0.75"/>
<line x1="395.2" y1="595.7" x2="430.5" y2="609.1" stroke="#8c8c8c" stroke-width="0.75"/>
<line x1="395.2" y1="647.8" x2="430.5" y2="661.2" stroke="#8c8c8c" stroke-width="0.75"/>
<line x1="395.2" y1="661.2" x2="430.5" y2="524.2" stroke="#8c8c8c" stroke-width="0.75"/>
<text x="336.8" y="545.1" font-size="8.5" fill="#231f20" stroke="#231f20" stroke-width="0.18" text-anchor="middle"  textLength="38.8" lengthAdjust="spacingAndGlyphs"><tspan font-style="italic">P</tspan> = 0.0625</text>
<line x1="319.0" y1="548.3" x2="354.9" y2="548.3" stroke="#4a4a4a" stroke-width="1.0"/>
<text x="412.0" y="517.2" font-size="8.5" fill="#231f20" stroke="#231f20" stroke-width="0.18" text-anchor="middle"  textLength="38.8" lengthAdjust="spacingAndGlyphs"><tspan font-style="italic">P</tspan> = 0.5781</text>
<line x1="394.5" y1="519.7" x2="430.8" y2="519.7" stroke="#4a4a4a" stroke-width="1.0"/>
<text x="318.0" y="681.7" font-size="8.5" fill="#231f20" stroke="#231f20" stroke-width="0.18" text-anchor="middle"  textLength="12.4" lengthAdjust="spacingAndGlyphs">Pre</text>
<text x="318.0" y="708.6" font-size="8.5" fill="#231f20" stroke="#231f20" stroke-width="0.18" text-anchor="middle"  textLength="4.4" lengthAdjust="spacingAndGlyphs">6</text>
<text x="352.6" y="681.7" font-size="8.5" fill="#231f20" stroke="#231f20" stroke-width="0.18" text-anchor="middle"  textLength="10.7" lengthAdjust="spacingAndGlyphs">On</text>
<text x="352.6" y="708.6" font-size="8.5" fill="#231f20" stroke="#231f20" stroke-width="0.18" text-anchor="middle"  textLength="4.4" lengthAdjust="spacingAndGlyphs">6</text>
<text x="395.2" y="681.7" font-size="8.5" fill="#231f20" stroke="#231f20" stroke-width="0.18" text-anchor="middle"  textLength="12.4" lengthAdjust="spacingAndGlyphs">Pre</text>
<text x="395.2" y="708.6" font-size="8.5" fill="#231f20" stroke="#231f20" stroke-width="0.18" text-anchor="middle"  textLength="4.4" lengthAdjust="spacingAndGlyphs">7</text>
<text x="430.5" y="681.7" font-size="8.5" fill="#231f20" stroke="#231f20" stroke-width="0.18" text-anchor="middle"  textLength="10.7" lengthAdjust="spacingAndGlyphs">On</text>
<text x="430.5" y="708.6" font-size="8.5" fill="#231f20" stroke="#231f20" stroke-width="0.18" text-anchor="middle"  textLength="4.4" lengthAdjust="spacingAndGlyphs">7</text>
<line x1="307.9" y1="684.7" x2="361.0" y2="684.7" stroke="#333" stroke-width="1.0"/>
<line x1="386.1" y1="684.7" x2="436.5" y2="684.7" stroke="#333" stroke-width="1.0"/>
<text x="334.1" y="696.2" font-size="8.5" fill="#231f20" stroke="#231f20" stroke-width="0.18" text-anchor="middle"  textLength="13.3" lengthAdjust="spacingAndGlyphs">Mut</text>
<text x="411.3" y="696.2" font-size="8.5" fill="#231f20" stroke="#231f20" stroke-width="0.18" text-anchor="middle"  textLength="12.4" lengthAdjust="spacingAndGlyphs">WT</text>
<text x="494.2" y="512.9" font-size="11" font-weight="bold" fill="#000">h</text>
<line x1="524.5" y1="516.8" x2="524.5" y2="667.2" stroke="#b8b8b8" stroke-width="1.0"/>
<line x1="524.5" y1="667.2" x2="678.3" y2="667.2" stroke="#b8b8b8" stroke-width="1.0"/>
<line x1="521.3" y1="646.1" x2="524.5" y2="646.1" stroke="#444" stroke-width="0.7"/>
<text x="517.7" y="649.2" font-size="8.5" fill="#231f20" stroke="#231f20" stroke-width="0.18" text-anchor="end"  textLength="4.4" lengthAdjust="spacingAndGlyphs">1</text>
<line x1="521.3" y1="609.8" x2="524.5" y2="609.8" stroke="#444" stroke-width="0.7"/>
<text x="517.7" y="612.9" font-size="8.5" fill="#231f20" stroke="#231f20" stroke-width="0.18" text-anchor="end"  textLength="4.4" lengthAdjust="spacingAndGlyphs">2</text>
<line x1="521.3" y1="573.9" x2="524.5" y2="573.9" stroke="#444" stroke-width="0.7"/>
<text x="517.7" y="577.0" font-size="8.5" fill="#231f20" stroke="#231f20" stroke-width="0.18" text-anchor="end"  textLength="4.4" lengthAdjust="spacingAndGlyphs">3</text>
<line x1="521.3" y1="538.0" x2="524.5" y2="538.0" stroke="#444" stroke-width="0.7"/>
<text x="517.7" y="541.1" font-size="8.5" fill="#231f20" stroke="#231f20" stroke-width="0.18" text-anchor="end"  textLength="4.4" lengthAdjust="spacingAndGlyphs">4</text>
<line x1="547.2" y1="667.7" x2="547.2" y2="670.2" stroke="#444" stroke-width="0.7"/>
<line x1="585.5" y1="667.7" x2="585.5" y2="670.2" stroke="#444" stroke-width="0.7"/>
<line x1="624.0" y1="667.7" x2="624.0" y2="670.2" stroke="#444" stroke-width="0.7"/>
<line x1="662.5" y1="667.7" x2="662.5" y2="670.2" stroke="#444" stroke-width="0.7"/>
<text transform="translate(505.7,592.3) rotate(-90)" font-size="8.5" fill="#231f20" text-anchor="middle" textLength="122.9" lengthAdjust="spacingAndGlyphs">log<tspan font-size="5" dy="2">10</tspan><tspan dy="-2">[total number of unique BCRs]</tspan></text>
<line x1="547.2" y1="556.4" x2="547.2" y2="574.9" stroke="#f6d88c" stroke-width="1.3"/>
<line x1="547.2" y1="615.2" x2="547.2" y2="660.5" stroke="#f6d88c" stroke-width="1.3"/>
<rect x="538.5" y="574.9" width="17.5" height="40.3" stroke="#f6d88c" stroke-width="1.3" fill="none"/>
<line x1="538.5" y1="597.4" x2="556.0" y2="597.4" stroke="#f6d88c" stroke-width="1.3"/>
<line x1="585.5" y1="523.5" x2="585.5" y2="543.7" stroke="#ea7127" stroke-width="1.3"/>
<line x1="585.5" y1="569.8" x2="585.5" y2="579.9" stroke="#ea7127" stroke-width="1.3"/>
<rect x="576.8" y="543.7" width="17.5" height="26.1" stroke="#ea7127" stroke-width="1.3" fill="none"/>
<line x1="576.8" y1="547.0" x2="594.2" y2="547.0" stroke="#ea7127" stroke-width="1.3"/>
<line x1="624.0" y1="561.5" x2="624.0" y2="562.8" stroke="#f6d88c" stroke-width="1.3"/>
<line x1="624.0" y1="596.4" x2="624.0" y2="629.3" stroke="#f6d88c" stroke-width="1.3"/>
<rect x="615.2" y="562.8" width="17.5" height="33.6" stroke="#f6d88c" stroke-width="1.3" fill="none"/>
<line x1="615.2" y1="573.2" x2="632.8" y2="573.2" stroke="#f6d88c" stroke-width="1.3"/>
<line x1="662.5" y1="566.2" x2="662.5" y2="569.5" stroke="#ea7127" stroke-width="1.3"/>
<line x1="662.5" y1="589.0" x2="662.5" y2="614.2" stroke="#ea7127" stroke-width="1.3"/>
<rect x="653.8" y="569.5" width="17.5" height="19.5" stroke="#ea7127" stroke-width="1.3" fill="none"/>
<line x1="653.8" y1="574.5" x2="671.2" y2="574.5" stroke="#ea7127" stroke-width="1.3"/>
<line x1="547.2" y1="556.4" x2="585.5" y2="545.7" stroke="#8c8c8c" stroke-width="0.75"/>
<line x1="547.2" y1="556.4" x2="585.5" y2="559.8" stroke="#8c8c8c" stroke-width="0.75"/>
<line x1="547.2" y1="591.3" x2="585.5" y2="542.0" stroke="#8c8c8c" stroke-width="0.75"/>
<line x1="547.2" y1="597.4" x2="585.5" y2="547.0" stroke="#8c8c8c" stroke-width="0.75"/>
<line x1="547.2" y1="609.1" x2="585.5" y2="523.5" stroke="#8c8c8c" stroke-width="0.75"/>
<line x1="547.2" y1="620.2" x2="585.5" y2="579.9" stroke="#8c8c8c" stroke-width="0.75"/>
<line x1="547.2" y1="660.5" x2="585.5" y2="652.1" stroke="#8c8c8c" stroke-width="0.75"/>
<line x1="624.0" y1="561.5" x2="662.5" y2="566.2" stroke="#8c8c8c" stroke-width="0.75"/>
<line x1="624.0" y1="563.8" x2="662.5" y2="571.5" stroke="#8c8c8c" stroke-width="0.75"/>
<line x1="624.0" y1="565.0" x2="662.5" y2="574.5" stroke="#8c8c8c" stroke-width="0.75"/>
<line x1="624.0" y1="573.2" x2="662.5" y2="580.6" stroke="#8c8c8c" stroke-width="0.75"/>
<line x1="624.0" y1="584.6" x2="662.5" y2="597.4" stroke="#8c8c8c" stroke-width="0.75"/>
<line x1="624.0" y1="609.1" x2="662.5" y2="523.5" stroke="#8c8c8c" stroke-width="0.75"/>
<line x1="624.0" y1="629.3" x2="662.5" y2="614.2" stroke="#8c8c8c" stroke-width="0.75"/>
<circle cx="547.2" cy="556.4" r="3.4" fill="#f8df9c"/>
<circle cx="547.2" cy="556.4" r="3.4" fill="#f8df9c"/>
<circle cx="547.2" cy="591.3" r="3.4" fill="#f8df9c"/>
<circle cx="547.2" cy="597.4" r="3.4" fill="#f8df9c"/>
<circle cx="547.2" cy="609.1" r="3.4" fill="#f8df9c"/>
<circle cx="547.2" cy="620.2" r="3.4" fill="#f8df9c"/>
<circle cx="547.2" cy="660.5" r="3.4" fill="#f8df9c"/>
<circle cx="585.5" cy="523.5" r="3.4" fill="#ea7127"/>
<circle cx="585.5" cy="542.0" r="3.4" fill="#ea7127"/>
<circle cx="585.5" cy="545.3" r="3.4" fill="#ea7127"/>
<circle cx="585.5" cy="547.0" r="3.4" fill="#ea7127"/>
<circle cx="585.5" cy="559.8" r="3.4" fill="#ea7127"/>
<circle cx="585.5" cy="579.9" r="3.4" fill="#ea7127"/>
<circle cx="585.5" cy="652.1" r="3.4" fill="#ea7127"/>
<circle cx="624.0" cy="561.5" r="3.4" fill="#f8df9c"/>
<circle cx="624.0" cy="563.8" r="3.4" fill="#f8df9c"/>
<circle cx="624.0" cy="565.0" r="3.4" fill="#f8df9c"/>
<circle cx="624.0" cy="573.2" r="3.4" fill="#f8df9c"/>
<circle cx="624.0" cy="584.6" r="3.4" fill="#f8df9c"/>
<circle cx="624.0" cy="609.1" r="3.4" fill="#f8df9c"/>
<circle cx="624.0" cy="629.3" r="3.4" fill="#f8df9c"/>
<circle cx="662.5" cy="523.5" r="3.4" fill="#ea7127"/>
<circle cx="662.5" cy="566.2" r="3.4" fill="#ea7127"/>
<circle cx="662.5" cy="571.5" r="3.4" fill="#ea7127"/>
<circle cx="662.5" cy="574.5" r="3.4" fill="#ea7127"/>
<circle cx="662.5" cy="580.6" r="3.4" fill="#ea7127"/>
<circle cx="662.5" cy="597.4" r="3.4" fill="#ea7127"/>
<circle cx="662.5" cy="614.2" r="3.4" fill="#ea7127"/>
<line x1="547.2" y1="556.4" x2="585.5" y2="545.7" stroke="#8c8c8c" stroke-width="0.75"/>
<line x1="547.2" y1="556.4" x2="585.5" y2="559.8" stroke="#8c8c8c" stroke-width="0.75"/>
<line x1="547.2" y1="591.3" x2="585.5" y2="542.0" stroke="#8c8c8c" stroke-width="0.75"/>
<line x1="547.2" y1="597.4" x2="585.5" y2="547.0" stroke="#8c8c8c" stroke-width="0.75"/>
<line x1="547.2" y1="609.1" x2="585.5" y2="523.5" stroke="#8c8c8c" stroke-width="0.75"/>
<line x1="547.2" y1="620.2" x2="585.5" y2="579.9" stroke="#8c8c8c" stroke-width="0.75"/>
<line x1="547.2" y1="660.5" x2="585.5" y2="652.1" stroke="#8c8c8c" stroke-width="0.75"/>
<line x1="624.0" y1="561.5" x2="662.5" y2="566.2" stroke="#8c8c8c" stroke-width="0.75"/>
<line x1="624.0" y1="563.8" x2="662.5" y2="571.5" stroke="#8c8c8c" stroke-width="0.75"/>
<line x1="624.0" y1="565.0" x2="662.5" y2="574.5" stroke="#8c8c8c" stroke-width="0.75"/>
<line x1="624.0" y1="573.2" x2="662.5" y2="580.6" stroke="#8c8c8c" stroke-width="0.75"/>
<line x1="624.0" y1="584.6" x2="662.5" y2="597.4" stroke="#8c8c8c" stroke-width="0.75"/>
<line x1="624.0" y1="609.1" x2="662.5" y2="523.5" stroke="#8c8c8c" stroke-width="0.75"/>
<line x1="624.0" y1="629.3" x2="662.5" y2="614.2" stroke="#8c8c8c" stroke-width="0.75"/>
<text x="565.1" y="515.9" font-size="8.5" fill="#231f20" stroke="#231f20" stroke-width="0.18" text-anchor="middle"  textLength="38.8" lengthAdjust="spacingAndGlyphs"><tspan font-style="italic">P</tspan> = 0.0313</text>
<line x1="545.0" y1="518.7" x2="585.0" y2="518.7" stroke="#4a4a4a" stroke-width="1.0"/>
<text x="643.0" y="515.9" font-size="8.5" fill="#231f20" stroke="#231f20" stroke-width="0.18" text-anchor="middle"  textLength="38.8" lengthAdjust="spacingAndGlyphs"><tspan font-style="italic">P</tspan> = 0.9375</text>
<line x1="622.9" y1="518.7" x2="663.2" y2="518.7" stroke="#4a4a4a" stroke-width="1.0"/>
<text x="547.2" y="681.7" font-size="8.5" fill="#231f20" stroke="#231f20" stroke-width="0.18" text-anchor="middle"  textLength="12.4" lengthAdjust="spacingAndGlyphs">Pre</text>
<text x="547.2" y="708.6" font-size="8.5" fill="#231f20" stroke="#231f20" stroke-width="0.18" text-anchor="middle"  textLength="4.4" lengthAdjust="spacingAndGlyphs">7</text>
<text x="585.5" y="681.7" font-size="8.5" fill="#231f20" stroke="#231f20" stroke-width="0.18" text-anchor="middle"  textLength="10.7" lengthAdjust="spacingAndGlyphs">On</text>
<text x="585.5" y="708.6" font-size="8.5" fill="#231f20" stroke="#231f20" stroke-width="0.18" text-anchor="middle"  textLength="4.4" lengthAdjust="spacingAndGlyphs">7</text>
<text x="624.0" y="681.7" font-size="8.5" fill="#231f20" stroke="#231f20" stroke-width="0.18" text-anchor="middle"  textLength="12.4" lengthAdjust="spacingAndGlyphs">Pre</text>
<text x="624.0" y="708.6" font-size="8.5" fill="#231f20" stroke="#231f20" stroke-width="0.18" text-anchor="middle"  textLength="4.4" lengthAdjust="spacingAndGlyphs">7</text>
<text x="662.5" y="681.7" font-size="8.5" fill="#231f20" stroke="#231f20" stroke-width="0.18" text-anchor="middle"  textLength="10.7" lengthAdjust="spacingAndGlyphs">On</text>
<text x="662.5" y="708.6" font-size="8.5" fill="#231f20" stroke="#231f20" stroke-width="0.18" text-anchor="middle"  textLength="4.4" lengthAdjust="spacingAndGlyphs">7</text>
<line x1="539.6" y1="684.7" x2="593.3" y2="684.7" stroke="#333" stroke-width="1.0"/>
<line x1="617.9" y1="684.7" x2="668.2" y2="684.7" stroke="#333" stroke-width="1.0"/>
<text x="568.5" y="696.2" font-size="8.5" fill="#231f20" stroke="#231f20" stroke-width="0.18" text-anchor="middle"  textLength="13.3" lengthAdjust="spacingAndGlyphs">Mut</text>
<text x="643.0" y="696.2" font-size="8.5" fill="#231f20" stroke="#231f20" stroke-width="0.18" text-anchor="middle"  textLength="12.4" lengthAdjust="spacingAndGlyphs">WT</text>
<text x="135.0" y="276.1" font-size="8.5" fill="#231f20" stroke="#231f20" stroke-width="0.18" text-anchor="start"  textLength="43.1" lengthAdjust="spacingAndGlyphs">Significance</text>
<circle cx="185.2" cy="273.0" r="3.8" fill="#6b2413"/>
<text x="192.8" y="276.1" font-size="8.5" fill="#231f20" stroke="#231f20" stroke-width="0.18" text-anchor="start"  textLength="63.4" lengthAdjust="spacingAndGlyphs">FDR &lt; 0.0001, up</text>
<circle cx="273.1" cy="273.0" r="3.8" fill="#a63a20"/>
<text x="280.7" y="276.1" font-size="8.5" fill="#231f20" stroke="#231f20" stroke-width="0.18" text-anchor="start"  textLength="58.9" lengthAdjust="spacingAndGlyphs">FDR &lt; 0.001, up</text>
<circle cx="357.2" cy="273.0" r="3.8" fill="#d4531f"/>
<text x="364.8" y="276.1" font-size="8.5" fill="#231f20" stroke="#231f20" stroke-width="0.18" text-anchor="start"  textLength="54.5" lengthAdjust="spacingAndGlyphs">FDR &lt; 0.01, up</text>
<circle cx="436.3" cy="273.0" r="3.8" fill="#ee7d23"/>
<text x="443.9" y="276.1" font-size="8.5" fill="#231f20" stroke="#231f20" stroke-width="0.18" text-anchor="start"  textLength="54.5" lengthAdjust="spacingAndGlyphs">FDR &lt; 0.05, up</text>
<circle cx="515.4" cy="273.0" r="3.8" fill="#dde8f4"/>
<text x="523.0" y="276.1" font-size="8.5" fill="#231f20" stroke="#231f20" stroke-width="0.18" text-anchor="start"  textLength="64.7" lengthAdjust="spacingAndGlyphs">FDR &lt; 0.05, down</text>
</svg></body></html>
